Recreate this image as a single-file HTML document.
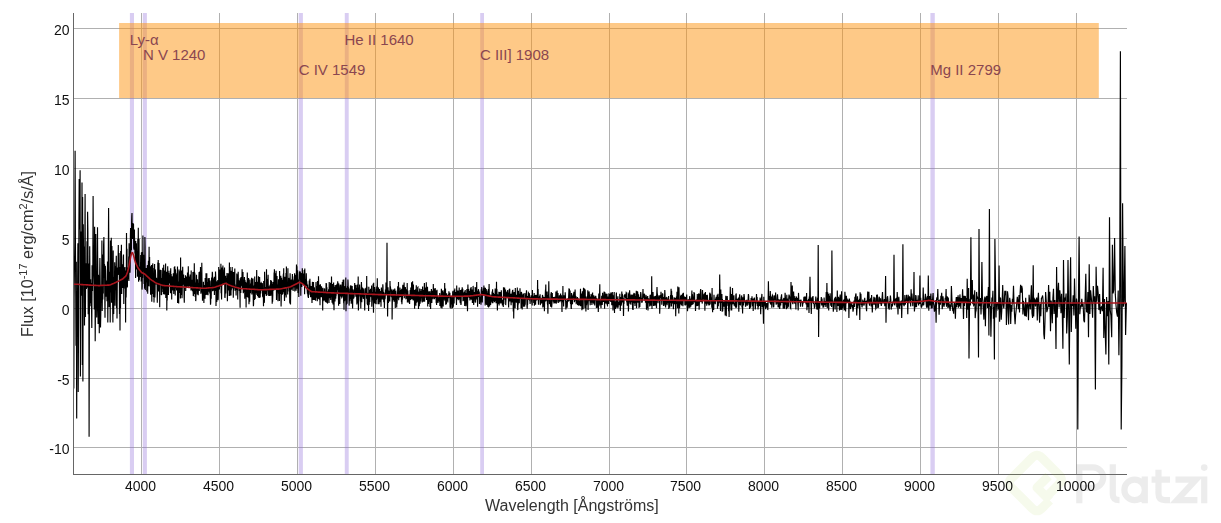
<!DOCTYPE html>
<html><head><meta charset="utf-8"><style>
html,body{margin:0;padding:0;background:#fff;}
body{width:1221px;height:523px;overflow:hidden;}
svg{display:block;font-family:"Liberation Sans",sans-serif;}
.gs{filter:grayscale(1);}
</style></head><body>
<svg width="1221" height="523" viewBox="0 0 1221 523">
<rect width="1221" height="523" fill="#fff"/>
<g stroke="#b0b0b0" stroke-width="1" shape-rendering="crispEdges"><line x1="141.5" y1="13.0" x2="141.5" y2="474.3"/><line x1="219.5" y1="13.0" x2="219.5" y2="474.3"/><line x1="297.5" y1="13.0" x2="297.5" y2="474.3"/><line x1="375.5" y1="13.0" x2="375.5" y2="474.3"/><line x1="453.5" y1="13.0" x2="453.5" y2="474.3"/><line x1="531.5" y1="13.0" x2="531.5" y2="474.3"/><line x1="609.5" y1="13.0" x2="609.5" y2="474.3"/><line x1="686.5" y1="13.0" x2="686.5" y2="474.3"/><line x1="764.5" y1="13.0" x2="764.5" y2="474.3"/><line x1="842.5" y1="13.0" x2="842.5" y2="474.3"/><line x1="920.5" y1="13.0" x2="920.5" y2="474.3"/><line x1="998.5" y1="13.0" x2="998.5" y2="474.3"/><line x1="1076.5" y1="13.0" x2="1076.5" y2="474.3"/><line x1="73.6" y1="28.5" x2="1127.1" y2="28.5"/><line x1="73.6" y1="98.5" x2="1127.1" y2="98.5"/><line x1="73.6" y1="168.5" x2="1127.1" y2="168.5"/><line x1="73.6" y1="238.5" x2="1127.1" y2="238.5"/><line x1="73.6" y1="308.5" x2="1127.1" y2="308.5"/><line x1="73.6" y1="378.5" x2="1127.1" y2="378.5"/><line x1="73.6" y1="447.5" x2="1127.1" y2="447.5"/></g>
<g fill="rgb(147,112,219)" fill-opacity="0.35"><rect x="129.9" y="13.0" width="4.1" height="461.3"/><rect x="142.8" y="13.0" width="4.1" height="461.3"/><rect x="298.7" y="13.0" width="4.2" height="461.3"/><rect x="344.8" y="13.0" width="3.9" height="461.3"/><rect x="480.2" y="13.0" width="3.8" height="461.3"/><rect x="930.4" y="13.0" width="4.4" height="461.3"/></g>
<rect x="119.1" y="23" width="979.7" height="75" fill="rgb(253,147,15)" fill-opacity="0.5"/>
<path d="M73.8 388.5L74.1 298.3L74.4 271.2L74.8 242.3L75.1 150.7L75.4 238.2L75.7 287.0L76.0 345.7L76.3 261.8L76.7 418.6L77.0 306.4L77.3 300.3L77.6 289.0L77.9 243.2L78.2 392.0L78.6 314.7L78.9 226.1L79.2 179.0L79.5 203.0L79.8 229.6L80.1 170.3L80.4 376.5L80.8 231.6L81.1 295.8L81.4 291.0L81.7 276.9L82.0 182.4L82.3 365.0L82.6 196.9L82.9 381.6L83.3 224.2L83.6 265.9L83.9 246.6L84.2 253.4L84.5 325.5L84.8 253.9L85.1 194.0L85.4 317.0L85.7 263.2L86.0 280.7L86.3 288.9L86.7 287.2L87.0 241.2L87.3 287.6L87.6 211.8L87.9 231.5L88.2 314.3L88.5 289.0L88.8 263.6L89.1 436.7L89.4 310.0L89.7 246.3L90.0 287.5L90.3 303.3L90.6 279.2L90.9 306.2L91.2 283.1L91.5 305.3L91.8 328.0L92.1 265.3L92.5 291.1L92.8 271.9L93.1 196.0L93.4 252.1L93.7 269.3L94.0 280.0L94.3 309.5L94.6 226.7L94.9 250.7L95.2 341.3L95.5 302.2L95.8 234.0L96.1 273.5L96.4 283.0L96.7 317.6L97.0 303.1L97.2 277.2L97.5 227.3L97.8 279.2L98.1 324.0L98.4 274.8L98.7 278.0L99.0 294.4L99.3 333.3L99.6 280.6L99.9 257.9L100.2 285.2L100.5 327.6L100.8 314.1L101.0 301.5L101.3 284.9L101.6 301.7L101.9 240.5L102.2 310.9L102.5 285.3L102.8 299.4L103.0 254.4L103.3 293.6L103.6 245.1L103.9 236.9L104.2 278.1L104.5 264.0L104.7 289.1L105.0 317.8L105.3 265.8L105.6 270.7L105.9 290.0L106.1 296.7L106.4 281.1L106.7 280.4L107.0 301.3L107.2 297.1L107.5 261.5L107.8 322.4L108.1 285.9L108.3 261.2L108.6 208.0L108.9 265.7L109.2 306.9L109.4 289.3L109.7 287.0L110.0 271.8L110.2 322.4L110.5 240.6L110.8 259.7L111.1 292.5L111.3 237.7L111.6 302.8L111.9 246.1L112.1 277.3L112.4 265.6L112.6 300.6L112.9 322.4L113.2 250.6L113.4 310.2L113.7 314.1L113.9 281.8L114.2 277.3L114.5 279.6L114.7 262.3L115.0 305.8L115.2 292.0L115.5 281.5L115.7 265.9L116.0 269.3L116.3 255.7L116.5 308.1L116.8 278.8L117.0 318.4L117.3 282.0L117.5 267.4L117.8 274.8L118.0 269.9L118.3 245.0L118.5 273.5L118.8 274.9L119.0 252.9L119.2 264.4L119.5 314.0L119.7 267.0L120.0 330.4L120.2 287.0L120.5 308.3L120.7 251.0L120.9 275.7L121.2 267.2L121.4 244.7L121.7 294.0L121.9 278.9L122.1 280.7L122.4 264.3L122.6 287.9L122.8 268.2L123.1 275.8L123.3 256.8L123.5 254.5L123.8 303.9L124.0 267.9L124.2 283.1L124.5 276.6L124.7 268.6L124.9 267.1L125.1 288.6L125.4 270.5L125.6 322.4L125.8 276.2L126.1 297.6L126.3 287.2L126.5 233.0L126.7 263.3L127.0 248.8L127.2 287.4L127.4 286.4L127.6 267.6L127.8 277.2L128.1 279.4L128.3 278.1L128.5 277.3L128.7 256.5L128.9 280.9L129.1 243.3L129.4 268.0L129.6 261.4L129.8 263.8L130.0 272.7L130.2 266.5L130.4 235.8L130.6 228.1L130.8 253.9L131.0 232.1L131.2 242.0L131.4 250.3L131.6 221.9L131.8 215.8L132.0 213.0L132.2 238.2L132.4 235.4L132.5 239.0L132.7 229.6L132.9 223.0L133.1 238.5L133.3 230.3L133.5 223.7L133.7 248.4L133.8 243.4L134.0 249.7L134.2 235.6L134.4 229.6L134.5 237.9L134.7 240.4L134.9 253.6L135.1 244.1L135.2 257.8L135.4 258.5L135.6 278.1L135.7 241.0L135.9 267.3L136.1 257.1L136.2 258.8L136.4 243.3L136.6 255.2L136.8 269.5L136.9 260.8L137.1 263.3L137.3 259.6L137.4 276.8L137.6 263.8L137.8 239.1L137.9 257.0L138.1 250.7L138.3 227.7L138.5 259.6L138.6 281.7L138.8 266.8L139.0 238.7L139.1 255.5L139.3 280.2L139.5 268.8L139.7 267.6L139.8 266.5L140.0 267.8L140.2 277.1L140.3 274.2L140.5 270.2L140.7 255.1L140.8 274.1L141.0 259.6L141.2 281.4L141.4 252.6L141.5 266.6L141.7 268.2L141.9 251.9L142.0 289.6L142.2 286.4L142.4 262.5L142.6 277.9L142.7 273.0L142.9 235.4L143.1 271.5L143.2 267.6L143.4 269.5L143.6 254.8L143.7 265.1L143.9 266.3L144.1 283.9L144.3 273.1L144.4 268.8L144.6 288.8L144.8 262.0L144.9 237.0L145.1 246.0L145.3 290.1L145.5 282.5L145.6 282.1L145.8 279.1L146.0 272.2L146.1 273.8L146.3 268.1L146.5 269.0L146.7 272.5L146.8 291.4L147.0 279.5L147.2 271.9L147.3 265.6L147.5 265.2L147.7 293.8L147.9 280.2L148.0 275.0L148.2 270.1L148.4 260.8L148.5 274.2L148.7 286.2L148.9 270.7L149.1 246.8L149.2 273.4L149.4 277.8L149.6 257.0L149.7 274.1L149.9 266.7L150.1 286.4L150.3 266.2L150.4 283.0L150.6 294.8L150.8 272.5L150.9 269.2L151.1 279.1L151.3 276.9L151.5 265.0L151.6 282.9L151.8 301.8L152.0 274.5L152.2 275.4L152.3 265.4L152.5 282.0L152.7 263.4L152.8 265.2L153.0 293.9L153.2 268.0L153.4 291.8L153.5 297.1L153.7 282.3L153.9 285.9L154.0 302.5L154.2 277.3L154.4 272.8L154.6 264.0L154.7 280.5L154.9 297.4L155.1 291.5L155.2 269.4L155.4 270.6L155.6 274.8L155.8 284.2L155.9 278.5L156.1 283.5L156.3 284.5L156.5 277.7L156.6 280.7L156.8 283.6L157.0 280.4L157.1 287.1L157.3 302.7L157.5 288.2L157.7 282.2L157.8 262.6L158.0 286.1L158.2 259.9L158.4 266.0L158.5 291.5L158.7 289.9L158.9 280.4L159.0 263.1L159.2 278.0L159.4 274.7L159.6 289.3L159.7 307.3L159.9 284.8L160.1 273.9L160.3 269.7L160.4 282.0L160.6 280.7L160.8 270.1L160.9 284.1L161.1 270.3L161.3 295.1L161.5 294.6L161.6 294.9L161.8 278.0L162.0 288.8L162.2 281.8L162.3 279.1L162.5 279.7L162.7 269.3L162.8 267.8L163.0 292.0L163.2 281.4L163.4 285.8L163.5 294.3L163.7 264.8L163.9 275.1L164.1 285.4L164.2 287.8L164.4 279.5L164.6 294.6L164.8 285.8L164.9 270.6L165.1 273.7L165.3 292.2L165.4 288.6L165.6 263.4L165.8 298.0L166.0 290.1L166.1 298.0L166.3 279.7L166.5 280.6L166.7 271.8L166.8 310.6L167.0 281.9L167.2 300.6L167.4 277.0L167.5 285.6L167.7 266.3L167.9 279.8L168.1 294.2L168.2 270.8L168.4 295.1L168.6 287.5L168.7 273.0L168.9 278.7L169.1 279.2L169.3 283.5L169.4 278.4L169.6 275.4L169.8 280.9L170.0 273.4L170.1 270.7L170.3 283.6L170.5 293.2L170.7 268.3L170.8 284.2L171.0 277.4L171.2 274.1L171.4 293.0L171.5 278.9L171.7 299.6L171.9 276.2L172.1 288.2L172.2 281.9L172.4 276.6L172.6 290.3L172.7 282.7L172.9 290.5L173.1 283.8L173.3 273.3L173.4 283.3L173.6 284.9L173.8 294.1L174.0 275.2L174.1 284.0L174.3 267.0L174.5 291.0L174.7 273.6L174.8 266.3L175.0 283.9L175.2 295.6L175.4 269.2L175.5 273.6L175.7 277.1L175.9 273.3L176.1 288.4L176.2 276.5L176.4 277.4L176.6 290.4L176.8 277.1L176.9 288.9L177.1 275.0L177.3 272.6L177.5 266.5L177.6 303.1L177.8 281.5L178.0 287.1L178.2 284.4L178.3 286.3L178.5 285.2L178.7 303.5L178.9 274.5L179.0 269.5L179.2 274.8L179.4 271.7L179.6 292.1L179.7 292.8L179.9 275.4L180.1 271.3L180.3 281.4L180.4 298.4L180.6 257.5L180.8 290.0L181.0 274.4L181.1 295.0L181.3 274.5L181.5 282.1L181.7 270.4L181.8 275.5L182.0 298.3L182.2 292.8L182.4 281.1L182.5 276.6L182.7 266.8L182.9 281.2L183.1 284.7L183.2 284.2L183.4 284.1L183.6 274.4L183.8 284.4L183.9 284.7L184.1 297.3L184.3 302.8L184.5 283.8L184.6 277.9L184.8 284.5L185.0 279.4L185.2 278.1L185.3 284.6L185.5 275.3L185.7 290.9L185.9 284.2L186.1 287.5L186.2 283.5L186.4 278.4L186.6 276.4L186.8 283.0L186.9 280.1L187.1 287.4L187.3 285.2L187.5 272.6L187.6 285.9L187.8 272.9L188.0 279.6L188.2 282.6L188.3 266.2L188.5 286.2L188.7 286.7L188.9 283.9L189.0 281.5L189.2 282.0L189.4 276.5L189.6 282.9L189.7 280.4L189.9 286.3L190.1 274.5L190.3 287.6L190.5 286.8L190.6 284.2L190.8 281.5L191.0 290.5L191.2 270.4L191.3 289.7L191.5 287.7L191.7 288.1L191.9 289.0L192.0 279.7L192.2 283.2L192.4 291.3L192.6 289.5L192.7 287.5L192.9 272.1L193.1 290.4L193.3 296.1L193.5 294.6L193.6 287.7L193.8 271.8L194.0 294.1L194.2 284.4L194.3 263.3L194.5 289.1L194.7 272.6L194.9 274.3L195.0 280.2L195.2 297.0L195.4 282.5L195.6 288.2L195.7 301.1L195.9 299.8L196.1 284.9L196.3 283.7L196.5 274.8L196.6 279.8L196.8 289.6L197.0 289.3L197.2 286.8L197.3 294.5L197.5 279.2L197.7 285.4L197.9 292.2L198.0 291.0L198.2 295.2L198.4 289.4L198.6 283.3L198.8 289.1L198.9 277.4L199.1 272.0L199.3 291.0L199.5 285.6L199.6 288.7L199.8 271.6L200.0 283.0L200.2 281.0L200.4 278.7L200.5 266.9L200.7 283.3L200.9 293.7L201.1 289.4L201.2 281.0L201.4 286.0L201.6 292.6L201.8 262.7L202.0 285.1L202.1 290.8L202.3 292.0L202.5 300.7L202.7 295.9L202.8 288.9L203.0 288.8L203.2 292.9L203.4 281.7L203.5 285.9L203.7 294.0L203.9 302.9L204.1 284.9L204.3 285.9L204.4 287.9L204.6 297.6L204.8 286.0L205.0 298.7L205.2 278.0L205.3 284.6L205.5 284.5L205.7 292.8L205.9 295.0L206.0 273.3L206.2 278.4L206.4 288.9L206.6 280.5L206.8 273.2L206.9 294.8L207.1 290.2L207.3 290.2L207.5 282.0L207.6 294.7L207.8 284.0L208.0 295.2L208.2 278.2L208.4 278.7L208.5 287.7L208.7 280.0L208.9 291.6L209.1 288.1L209.2 278.1L209.4 286.5L209.6 282.9L209.8 293.6L210.0 280.5L210.1 282.1L210.3 296.0L210.5 304.7L210.7 302.6L210.9 286.3L211.0 287.6L211.2 298.7L211.4 284.7L211.6 277.5L211.7 286.7L211.9 289.5L212.1 278.7L212.3 271.8L212.5 273.5L212.6 291.2L212.8 279.2L213.0 284.4L213.2 287.4L213.4 290.8L213.5 282.7L213.7 289.7L213.9 278.0L214.1 282.4L214.3 276.8L214.4 294.9L214.6 285.1L214.8 279.0L215.0 282.2L215.1 283.3L215.3 291.0L215.5 271.6L215.7 276.2L215.9 281.7L216.0 306.1L216.2 292.8L216.4 283.8L216.6 290.6L216.8 301.9L216.9 282.6L217.1 281.4L217.3 294.6L217.5 288.5L217.7 289.9L217.8 280.0L218.0 300.3L218.2 298.5L218.4 288.8L218.6 289.7L218.7 266.9L218.9 289.2L219.1 282.2L219.3 287.4L219.4 289.4L219.6 280.8L219.8 269.4L220.0 286.6L220.2 277.2L220.3 280.6L220.5 278.2L220.7 280.4L220.9 263.8L221.1 293.3L221.2 285.1L221.4 292.2L221.6 299.4L221.8 283.0L222.0 267.6L222.1 275.2L222.3 272.5L222.5 278.3L222.7 283.1L222.9 265.6L223.0 285.1L223.2 269.6L223.4 284.6L223.6 281.1L223.8 279.4L223.9 281.3L224.1 277.3L224.3 276.7L224.5 267.6L224.7 281.4L224.8 297.0L225.0 298.0L225.2 292.5L225.4 287.2L225.6 275.7L225.7 293.5L225.9 281.0L226.1 281.0L226.3 279.2L226.5 282.5L226.6 278.2L226.8 281.2L227.0 272.9L227.2 278.9L227.4 301.2L227.5 281.7L227.7 280.3L227.9 286.8L228.1 288.4L228.3 273.3L228.5 280.9L228.6 290.4L228.8 285.1L229.0 283.9L229.2 295.9L229.4 262.4L229.5 283.8L229.7 278.9L229.9 295.7L230.1 267.1L230.3 277.9L230.4 279.1L230.6 289.2L230.8 288.8L231.0 295.4L231.2 270.7L231.3 290.2L231.5 281.5L231.7 278.5L231.9 288.6L232.1 276.5L232.2 266.9L232.4 281.1L232.6 271.8L232.8 278.9L233.0 287.5L233.2 287.0L233.3 297.7L233.5 282.9L233.7 271.9L233.9 278.4L234.1 277.1L234.2 274.7L234.4 288.4L234.6 279.5L234.8 268.5L235.0 290.8L235.1 284.1L235.3 288.1L235.5 286.0L235.7 290.5L235.9 285.6L236.1 295.6L236.2 288.9L236.4 288.7L236.6 288.9L236.8 273.5L237.0 284.2L237.1 283.5L237.3 287.4L237.5 274.5L237.7 299.4L237.9 286.7L238.1 275.9L238.2 271.8L238.4 283.7L238.6 285.3L238.8 280.2L239.0 287.0L239.1 280.9L239.3 290.9L239.5 280.4L239.7 286.1L239.9 294.6L240.1 307.8L240.2 278.2L240.4 282.7L240.6 279.6L240.8 293.0L241.0 277.1L241.1 282.6L241.3 286.3L241.5 278.5L241.7 278.7L241.9 282.7L242.1 269.3L242.2 274.7L242.4 283.2L242.6 287.9L242.8 285.1L243.0 272.0L243.1 282.9L243.3 293.3L243.5 291.3L243.7 286.1L243.9 279.4L244.1 292.0L244.2 282.0L244.4 277.1L244.6 280.2L244.8 298.7L245.0 279.9L245.2 296.4L245.3 282.9L245.5 294.6L245.7 281.9L245.9 285.6L246.1 307.4L246.2 293.2L246.4 282.8L246.6 286.2L246.8 289.6L247.0 296.9L247.2 282.9L247.3 272.6L247.5 284.7L247.7 287.1L247.9 287.9L248.1 297.8L248.3 289.6L248.4 293.7L248.6 278.0L248.8 294.2L249.0 304.3L249.2 293.4L249.4 289.2L249.5 288.4L249.7 301.8L249.9 279.5L250.1 286.2L250.3 290.9L250.5 293.3L250.6 283.6L250.8 289.7L251.0 284.9L251.2 288.2L251.4 286.1L251.6 277.8L251.7 287.1L251.9 294.4L252.1 279.3L252.3 285.3L252.5 292.7L252.6 278.5L252.8 288.8L253.0 278.6L253.2 296.6L253.4 306.3L253.6 303.9L253.8 285.6L253.9 293.4L254.1 288.4L254.3 288.2L254.5 300.1L254.7 276.6L254.9 296.1L255.0 287.0L255.2 299.0L255.4 289.0L255.6 282.0L255.8 289.7L256.0 293.5L256.1 287.8L256.3 291.5L256.5 283.3L256.7 270.1L256.9 294.9L257.1 293.3L257.2 288.8L257.4 288.1L257.6 296.1L257.8 283.9L258.0 281.8L258.2 286.1L258.3 297.4L258.5 276.3L258.7 297.4L258.9 282.4L259.1 278.7L259.3 298.0L259.4 286.9L259.6 277.1L259.8 284.8L260.0 295.3L260.2 297.5L260.4 284.3L260.6 291.1L260.7 293.6L260.9 282.5L261.1 290.7L261.3 287.5L261.5 283.4L261.7 283.8L261.8 288.3L262.0 288.0L262.2 283.1L262.4 284.3L262.6 296.8L262.8 289.5L262.9 294.9L263.1 297.5L263.3 292.5L263.5 306.2L263.7 281.0L263.9 294.3L264.1 285.1L264.2 302.8L264.4 301.5L264.6 271.7L264.8 279.8L265.0 293.0L265.2 294.1L265.3 293.6L265.5 287.0L265.7 291.3L265.9 292.9L266.1 287.0L266.3 295.9L266.5 269.2L266.6 292.7L266.8 279.1L267.0 295.3L267.2 285.7L267.4 280.3L267.6 290.6L267.8 280.1L267.9 280.1L268.1 274.8L268.3 287.3L268.5 291.5L268.7 295.8L268.9 286.3L269.0 296.0L269.2 287.6L269.4 286.7L269.6 292.1L269.8 296.0L270.0 284.7L270.2 285.4L270.3 286.1L270.5 288.1L270.7 280.1L270.9 295.7L271.1 284.1L271.3 291.1L271.5 280.7L271.6 290.3L271.8 290.5L272.0 283.9L272.2 303.7L272.4 290.3L272.6 301.7L272.8 295.1L272.9 281.9L273.1 284.2L273.3 290.8L273.5 287.8L273.7 287.7L273.9 284.9L274.1 272.6L274.2 285.4L274.4 269.3L274.6 290.2L274.8 281.3L275.0 281.4L275.2 285.4L275.4 289.4L275.5 275.6L275.7 273.1L275.9 278.6L276.1 270.7L276.3 279.3L276.5 300.0L276.7 278.6L276.8 292.4L277.0 276.1L277.2 289.5L277.4 284.5L277.6 286.6L277.8 291.7L278.0 301.3L278.1 288.6L278.3 288.1L278.5 279.2L278.7 291.8L278.9 285.1L279.1 293.7L279.3 286.7L279.4 301.1L279.6 271.0L279.8 284.6L280.0 294.1L280.2 284.1L280.4 280.5L280.6 284.7L280.8 275.7L280.9 287.8L281.1 306.4L281.3 296.0L281.5 277.8L281.7 279.6L281.9 283.4L282.1 294.7L282.2 279.9L282.4 281.0L282.6 293.6L282.8 293.4L283.0 283.4L283.2 277.4L283.4 273.9L283.6 280.7L283.7 268.3L283.9 292.2L284.1 281.1L284.3 290.0L284.5 301.1L284.7 295.5L284.9 276.8L285.0 293.0L285.2 295.2L285.4 279.9L285.6 278.2L285.8 285.0L286.0 273.0L286.2 297.6L286.4 266.4L286.5 276.8L286.7 283.5L286.9 283.8L287.1 286.9L287.3 287.7L287.5 283.8L287.7 294.6L287.9 268.3L288.0 285.4L288.2 279.6L288.4 286.3L288.6 287.0L288.8 277.9L289.0 280.0L289.2 291.5L289.4 287.9L289.5 279.6L289.7 301.3L289.9 303.4L290.1 273.2L290.3 287.2L290.5 304.6L290.7 290.8L290.9 286.2L291.0 282.6L291.2 279.9L291.4 282.4L291.6 279.6L291.8 289.7L292.0 280.6L292.2 280.1L292.4 274.0L292.5 282.9L292.7 276.2L292.9 281.6L293.1 291.0L293.3 285.6L293.5 286.5L293.7 285.2L293.9 282.7L294.0 281.1L294.2 279.6L294.4 287.6L294.6 273.3L294.8 291.6L295.0 281.5L295.2 275.3L295.4 277.1L295.6 275.5L295.7 281.7L295.9 274.8L296.1 290.7L296.3 275.9L296.5 264.5L296.7 275.9L296.9 266.2L297.1 280.7L297.2 288.7L297.4 285.4L297.6 270.4L297.8 274.5L298.0 293.1L298.2 282.1L298.4 279.5L298.6 287.1L298.8 297.1L298.9 288.4L299.1 279.8L299.3 281.2L299.5 272.0L299.7 274.1L299.9 270.9L300.1 279.0L300.3 271.9L300.5 278.3L300.6 279.5L300.8 295.7L301.0 272.9L301.2 278.2L301.4 278.0L301.6 282.5L301.8 286.9L302.0 276.1L302.2 273.9L302.3 268.3L302.5 273.5L302.7 284.0L302.9 280.7L303.1 273.5L303.3 278.3L303.5 281.5L303.7 285.1L303.9 277.7L304.0 280.4L304.2 269.9L304.4 274.9L304.6 294.3L304.8 268.4L305.0 281.5L305.2 285.6L305.4 281.9L305.6 279.3L305.7 284.7L305.9 285.4L306.1 285.2L306.3 273.3L306.5 285.4L306.7 280.9L306.9 283.3L307.1 288.8L307.3 291.8L307.4 293.7L307.6 284.6L307.8 294.3L308.0 296.1L308.2 296.1L308.4 297.9L308.6 288.0L308.8 288.0L309.0 294.7L309.2 280.5L309.3 291.0L309.5 286.4L309.7 287.6L309.9 278.8L310.1 284.6L310.3 290.4L310.5 296.4L310.7 297.2L310.9 290.4L311.1 289.9L311.2 285.9L311.4 294.0L311.6 289.9L311.8 295.4L312.0 302.9L312.2 291.4L312.4 281.9L312.6 286.0L312.8 282.2L313.0 283.9L313.1 300.1L313.3 293.2L313.5 281.9L313.7 296.0L313.9 299.9L314.1 289.4L314.3 287.4L314.5 289.6L314.7 293.6L314.9 296.0L315.0 299.5L315.2 299.7L315.4 299.5L315.6 300.7L315.8 296.2L316.0 282.0L316.2 291.1L316.4 293.9L316.6 289.5L316.8 297.8L317.0 289.6L317.1 286.0L317.3 301.3L317.5 281.1L317.7 293.4L317.9 298.0L318.1 298.9L318.3 294.2L318.5 276.2L318.7 287.7L318.9 289.1L319.0 285.7L319.2 293.4L319.4 299.8L319.6 289.0L319.8 284.8L320.0 305.2L320.2 289.3L320.4 284.2L320.6 293.7L320.8 294.9L321.0 287.7L321.2 297.3L321.3 289.1L321.5 286.3L321.7 293.4L321.9 297.2L322.1 288.2L322.3 294.4L322.5 291.7L322.7 310.5L322.9 287.8L323.1 301.2L323.3 292.0L323.4 291.6L323.6 297.0L323.8 298.1L324.0 300.5L324.2 294.5L324.4 288.6L324.6 289.0L324.8 295.7L325.0 296.2L325.2 301.5L325.4 295.2L325.6 299.3L325.7 302.3L325.9 293.6L326.1 283.0L326.3 285.0L326.5 283.4L326.7 302.8L326.9 287.2L327.1 300.5L327.3 296.4L327.5 303.6L327.7 299.1L327.9 292.0L328.0 291.4L328.2 293.2L328.4 293.8L328.6 289.3L328.8 292.5L329.0 303.0L329.2 281.9L329.4 294.4L329.6 287.0L329.8 294.0L330.0 298.2L330.2 292.4L330.3 297.7L330.5 282.7L330.7 299.9L330.9 289.0L331.1 296.8L331.3 294.0L331.5 276.4L331.7 288.0L331.9 294.3L332.1 302.8L332.3 294.7L332.5 294.5L332.7 283.9L332.8 302.0L333.0 304.4L333.2 293.1L333.4 291.5L333.6 282.6L333.8 298.6L334.0 310.2L334.2 297.5L334.4 301.0L334.6 296.4L334.8 286.7L335.0 301.5L335.2 285.1L335.3 291.7L335.5 294.8L335.7 298.6L335.9 295.7L336.1 295.5L336.3 288.2L336.5 284.8L336.7 293.4L336.9 288.5L337.1 284.8L337.3 285.0L337.5 290.0L337.7 281.3L337.9 284.5L338.0 282.7L338.2 294.3L338.4 295.7L338.6 305.8L338.8 283.6L339.0 288.8L339.2 298.9L339.4 291.8L339.6 291.1L339.8 304.0L340.0 291.0L340.2 285.9L340.4 284.8L340.6 295.3L340.8 295.1L340.9 284.5L341.1 287.0L341.3 296.6L341.5 296.9L341.7 289.2L341.9 297.2L342.1 296.9L342.3 282.0L342.5 291.3L342.7 295.9L342.9 289.7L343.1 279.8L343.3 291.5L343.5 298.0L343.7 303.3L343.8 279.5L344.0 309.8L344.2 286.2L344.4 299.4L344.6 301.1L344.8 299.5L345.0 294.3L345.2 286.0L345.4 297.3L345.6 288.9L345.8 277.5L346.0 311.2L346.2 297.9L346.4 304.8L346.6 287.7L346.8 302.7L346.9 303.4L347.1 303.2L347.3 293.3L347.5 285.9L347.7 292.3L347.9 279.6L348.1 282.8L348.3 294.0L348.5 287.2L348.7 292.4L348.9 292.8L349.1 305.6L349.3 301.7L349.5 293.2L349.7 301.1L349.9 288.6L350.1 291.4L350.2 299.3L350.4 285.8L350.6 291.8L350.8 285.3L351.0 294.3L351.2 303.8L351.4 288.9L351.6 295.0L351.8 288.0L352.0 286.4L352.2 285.9L352.4 302.7L352.6 308.4L352.8 296.7L353.0 289.2L353.2 298.1L353.4 291.6L353.6 298.7L353.8 295.5L353.9 295.4L354.1 297.5L354.3 290.1L354.5 291.2L354.7 282.9L354.9 290.9L355.1 284.8L355.3 292.8L355.5 287.7L355.7 294.4L355.9 296.6L356.1 284.9L356.3 288.7L356.5 287.9L356.7 298.4L356.9 304.4L357.1 299.1L357.3 291.6L357.5 302.9L357.6 284.4L357.8 303.2L358.0 289.7L358.2 276.5L358.4 310.4L358.6 303.7L358.8 287.4L359.0 294.9L359.2 292.5L359.4 294.5L359.6 284.6L359.8 289.6L360.0 296.8L360.2 295.3L360.4 301.4L360.6 294.4L360.8 308.5L361.0 289.5L361.2 295.6L361.4 282.0L361.6 286.2L361.8 302.2L361.9 288.1L362.1 297.3L362.3 293.6L362.5 287.5L362.7 291.8L362.9 290.8L363.1 291.0L363.3 298.7L363.5 298.1L363.7 290.5L363.9 288.4L364.1 295.8L364.3 293.4L364.5 300.4L364.7 310.5L364.9 299.3L365.1 293.9L365.3 293.0L365.5 288.8L365.7 288.5L365.9 287.9L366.1 291.7L366.3 291.5L366.5 298.7L366.7 276.1L366.8 292.9L367.0 286.6L367.2 304.3L367.4 297.3L367.6 305.2L367.8 299.1L368.0 303.4L368.2 292.7L368.4 298.6L368.6 310.9L368.8 286.7L369.0 301.5L369.2 304.7L369.4 296.8L369.6 299.0L369.8 302.1L370.0 290.1L370.2 296.8L370.4 288.8L370.6 290.0L370.8 290.4L371.0 293.4L371.2 295.2L371.4 297.2L371.6 285.4L371.8 306.8L372.0 301.6L372.2 298.9L372.4 292.1L372.5 293.8L372.7 297.8L372.9 297.0L373.1 283.8L373.3 299.1L373.5 312.8L373.7 282.8L373.9 300.7L374.1 296.7L374.3 293.7L374.5 303.1L374.7 287.0L374.9 295.5L375.1 303.7L375.3 293.2L375.5 291.8L375.7 295.2L375.9 291.7L376.1 304.2L376.3 288.8L376.5 300.0L376.7 286.6L376.9 298.7L377.1 293.9L377.3 278.3L377.5 294.5L377.7 287.8L377.9 291.7L378.1 304.2L378.3 287.5L378.5 287.9L378.7 303.6L378.9 295.3L379.1 304.3L379.3 296.6L379.5 289.0L379.7 294.2L379.8 302.3L380.0 300.5L380.2 294.6L380.4 294.9L380.6 293.9L380.8 291.0L381.0 306.7L381.2 294.7L381.4 287.5L381.6 291.6L381.8 299.2L382.0 298.7L382.2 293.8L382.4 290.5L382.6 294.8L382.8 284.2L383.0 286.5L383.2 299.7L383.4 291.7L383.6 297.0L383.8 302.3L384.0 298.8L384.2 294.8L384.4 308.0L384.6 298.9L384.8 292.5L385.0 299.3L385.2 297.3L385.4 289.4L385.6 295.2L385.8 293.7L386.0 282.4L386.2 293.7L386.4 293.0L386.6 292.0L386.8 284.5L387.0 242.7L387.2 294.5L387.4 295.4L387.6 316.5L387.8 298.7L388.0 287.2L388.2 293.4L388.4 302.9L388.6 290.5L388.8 291.6L389.0 301.5L389.2 292.4L389.4 293.0L389.6 296.2L389.8 301.4L390.0 281.1L390.2 289.7L390.4 288.6L390.6 288.1L390.8 289.5L391.0 289.6L391.2 296.7L391.4 289.4L391.6 295.6L391.8 297.4L392.0 290.4L392.1 319.4L392.3 305.0L392.5 296.9L392.7 291.0L392.9 294.5L393.1 289.3L393.3 296.6L393.5 300.2L393.7 289.9L393.9 293.6L394.1 301.8L394.3 291.9L394.5 296.1L394.7 288.6L394.9 289.9L395.1 291.8L395.3 308.1L395.5 292.5L395.7 291.8L395.9 291.6L396.1 294.0L396.3 298.9L396.5 296.1L396.7 307.4L396.9 296.3L397.1 303.7L397.3 296.7L397.5 298.7L397.7 286.3L397.9 294.3L398.1 294.6L398.3 293.6L398.5 282.1L398.7 300.3L398.9 292.7L399.1 292.4L399.3 293.5L399.5 293.7L399.7 297.5L399.9 287.5L400.1 289.5L400.3 296.8L400.5 296.0L400.7 292.8L400.9 291.7L401.1 290.1L401.3 294.8L401.5 302.2L401.7 288.8L401.9 304.3L402.1 300.2L402.3 292.4L402.5 299.8L402.7 286.4L402.9 284.8L403.1 287.4L403.3 292.7L403.5 293.2L403.7 292.1L403.9 295.8L404.1 282.4L404.3 298.2L404.5 286.7L404.7 291.3L404.9 292.7L405.1 288.3L405.3 287.0L405.5 289.2L405.7 295.2L405.9 298.7L406.1 298.6L406.4 289.3L406.6 290.5L406.8 289.8L407.0 297.9L407.2 283.1L407.4 302.6L407.6 292.4L407.8 290.6L408.0 297.3L408.2 301.4L408.4 297.3L408.6 301.6L408.8 296.1L409.0 302.6L409.2 302.7L409.4 294.7L409.6 303.9L409.8 296.3L410.0 295.8L410.2 289.9L410.4 293.6L410.6 300.0L410.8 287.6L411.0 299.2L411.2 297.4L411.4 297.0L411.6 282.3L411.8 294.8L412.0 299.2L412.2 290.9L412.4 295.9L412.6 281.3L412.8 299.4L413.0 291.5L413.2 300.6L413.4 284.5L413.6 299.5L413.8 294.0L414.0 300.2L414.2 290.0L414.4 291.8L414.6 308.7L414.8 290.5L415.0 291.3L415.2 293.8L415.4 289.4L415.7 302.5L415.9 305.7L416.1 291.3L416.3 285.3L416.5 302.4L416.7 302.0L416.9 300.3L417.1 302.3L417.3 290.4L417.5 294.5L417.7 287.4L417.9 287.2L418.1 301.3L418.3 291.6L418.5 309.0L418.7 296.0L418.9 291.8L419.1 300.3L419.3 306.2L419.5 298.4L419.7 288.4L419.9 297.8L420.1 303.7L420.3 292.7L420.5 291.0L420.7 301.6L420.9 296.4L421.2 289.1L421.4 293.4L421.6 291.2L421.8 297.4L422.0 296.3L422.2 302.4L422.4 299.8L422.6 286.5L422.8 298.0L423.0 300.9L423.2 298.3L423.4 301.7L423.6 292.5L423.8 290.1L424.0 301.1L424.2 289.5L424.4 283.1L424.6 301.7L424.8 291.5L425.0 293.9L425.2 287.5L425.4 288.0L425.7 289.0L425.9 293.6L426.1 297.9L426.3 282.3L426.5 300.1L426.7 288.8L426.9 289.5L427.1 299.7L427.3 295.3L427.5 286.8L427.7 306.5L427.9 290.8L428.1 297.2L428.3 297.0L428.5 304.0L428.7 293.1L428.9 301.7L429.1 291.5L429.4 292.5L429.6 291.4L429.8 293.7L430.0 306.9L430.2 297.7L430.4 296.5L430.6 308.9L430.8 297.9L431.0 291.1L431.2 300.1L431.4 289.0L431.6 302.4L431.8 302.9L432.0 292.6L432.2 292.2L432.4 296.9L432.7 296.0L432.9 290.2L433.1 299.2L433.3 284.1L433.5 293.4L433.7 293.6L433.9 294.3L434.1 297.7L434.3 288.8L434.5 299.3L434.7 294.9L434.9 292.2L435.1 288.1L435.3 289.1L435.5 298.0L435.8 290.4L436.0 296.3L436.2 302.1L436.4 302.0L436.6 305.0L436.8 294.3L437.0 289.7L437.2 301.9L437.4 297.8L437.6 302.5L437.8 296.1L438.0 302.9L438.2 300.9L438.4 300.2L438.7 298.9L438.9 298.3L439.1 297.4L439.3 297.4L439.5 301.8L439.7 293.1L439.9 306.1L440.1 295.5L440.3 301.8L440.5 295.6L440.7 294.7L440.9 307.8L441.2 294.3L441.4 288.8L441.6 292.0L441.8 294.3L442.0 308.5L442.2 297.3L442.4 301.5L442.6 290.4L442.8 298.2L443.0 300.0L443.2 306.5L443.4 292.2L443.7 299.6L443.9 297.9L444.1 290.3L444.3 296.1L444.5 294.7L444.7 282.9L444.9 299.6L445.1 299.3L445.3 293.7L445.5 288.6L445.7 304.7L446.0 297.7L446.2 302.0L446.4 304.3L446.6 293.3L446.8 300.9L447.0 294.9L447.2 295.9L447.4 295.8L447.6 296.3L447.8 302.6L448.0 297.0L448.3 295.4L448.5 294.7L448.7 298.2L448.9 291.2L449.1 293.4L449.3 296.0L449.5 293.1L449.7 295.6L449.9 292.8L450.1 307.7L450.4 303.9L450.6 298.9L450.8 296.0L451.0 308.8L451.2 298.2L451.4 295.9L451.6 298.1L451.8 298.1L452.0 304.4L452.2 296.3L452.5 308.3L452.7 291.4L452.9 300.3L453.1 290.7L453.3 306.7L453.5 294.5L453.7 296.1L453.9 301.6L454.1 303.5L454.4 290.1L454.6 294.4L454.8 288.5L455.0 297.1L455.2 295.8L455.4 294.4L455.6 292.5L455.8 294.2L456.0 292.1L456.3 299.3L456.5 304.9L456.7 285.4L456.9 295.7L457.1 293.9L457.3 299.1L457.5 290.9L457.7 295.5L457.9 290.4L458.2 300.2L458.4 296.8L458.6 295.4L458.8 298.4L459.0 294.9L459.2 287.5L459.4 299.6L459.6 297.9L459.8 295.4L460.1 301.8L460.3 303.1L460.5 290.1L460.7 291.8L460.9 304.9L461.1 304.2L461.3 292.1L461.5 289.6L461.8 292.6L462.0 293.4L462.2 287.3L462.4 296.4L462.6 289.0L462.8 289.4L463.0 301.3L463.2 292.3L463.5 295.8L463.7 299.7L463.9 300.7L464.1 294.2L464.3 296.4L464.5 291.5L464.7 305.9L464.9 299.8L465.2 289.9L465.4 296.1L465.6 300.1L465.8 298.8L466.0 306.3L466.2 303.8L466.4 293.1L466.7 295.6L466.9 288.9L467.1 297.5L467.3 296.9L467.5 311.2L467.7 296.6L467.9 284.4L468.1 292.3L468.4 296.7L468.6 289.0L468.8 291.2L469.0 294.0L469.2 297.9L469.4 295.1L469.6 291.1L469.9 300.4L470.1 293.0L470.3 293.2L470.5 288.3L470.7 291.5L470.9 299.5L471.1 286.9L471.4 295.4L471.6 299.8L471.8 293.7L472.0 297.1L472.2 289.5L472.4 303.0L472.6 301.8L472.9 296.9L473.1 285.9L473.3 289.8L473.5 301.0L473.7 305.0L473.9 297.1L474.1 302.4L474.4 292.1L474.6 294.4L474.8 295.4L475.0 297.7L475.2 286.9L475.4 300.5L475.6 302.6L475.9 288.9L476.1 287.7L476.3 297.1L476.5 291.5L476.7 282.0L476.9 299.6L477.2 295.9L477.4 292.4L477.6 306.7L477.8 295.8L478.0 290.8L478.2 295.5L478.4 289.2L478.7 290.7L478.9 297.0L479.1 291.8L479.3 292.3L479.5 304.0L479.7 299.5L480.0 299.1L480.2 297.6L480.4 297.3L480.6 302.6L480.8 294.5L481.0 304.8L481.3 289.3L481.5 293.1L481.7 286.9L481.9 292.7L482.1 297.5L482.3 302.6L482.6 291.0L482.8 294.8L483.0 292.8L483.2 290.8L483.4 288.3L483.6 295.2L483.9 285.5L484.1 295.6L484.3 295.2L484.5 291.5L484.7 289.6L484.9 287.6L485.2 305.5L485.4 287.9L485.6 303.8L485.8 298.6L486.0 293.4L486.2 289.1L486.5 301.2L486.7 305.0L486.9 290.5L487.1 294.0L487.3 301.4L487.5 297.5L487.8 306.7L488.0 292.7L488.2 298.8L488.4 289.1L488.6 307.4L488.9 292.0L489.1 284.0L489.3 295.4L489.5 295.3L489.7 306.6L489.9 294.3L490.2 296.2L490.4 299.5L490.6 304.9L490.8 296.0L491.0 302.1L491.2 299.3L491.5 294.9L491.7 297.0L491.9 296.7L492.1 291.6L492.3 303.3L492.6 289.2L492.8 303.1L493.0 302.0L493.2 296.3L493.4 292.7L493.7 295.6L493.9 299.4L494.1 300.9L494.3 298.4L494.5 302.3L494.7 293.9L495.0 298.2L495.2 288.4L495.4 301.1L495.6 297.8L495.8 294.7L496.1 303.2L496.3 300.7L496.5 281.8L496.7 297.2L496.9 289.1L497.2 302.8L497.4 310.5L497.6 294.2L497.8 297.5L498.0 295.7L498.3 299.0L498.5 300.6L498.7 304.0L498.9 291.8L499.1 305.6L499.4 292.1L499.6 298.6L499.8 303.4L500.0 301.0L500.2 292.1L500.5 293.4L500.7 294.7L500.9 296.9L501.1 303.4L501.3 290.3L501.6 299.8L501.8 300.5L502.0 300.3L502.2 299.8L502.4 305.4L502.7 299.9L502.9 301.9L503.1 300.4L503.3 307.0L503.5 287.2L503.8 304.2L504.0 296.0L504.2 295.9L504.4 292.2L504.6 287.4L504.9 295.4L505.1 293.8L505.3 300.1L505.5 289.6L505.7 305.1L506.0 298.9L506.2 296.2L506.4 293.7L506.6 293.3L506.9 291.5L507.1 294.6L507.3 297.6L507.5 296.6L507.7 290.0L508.0 296.2L508.2 292.8L508.4 298.5L508.6 307.6L508.8 301.0L509.1 296.0L509.3 289.0L509.5 290.1L509.7 288.7L510.0 301.6L510.2 293.6L510.4 298.0L510.6 294.4L510.8 298.2L511.1 305.2L511.3 294.1L511.5 296.0L511.7 293.5L512.0 302.4L512.2 292.4L512.4 291.8L512.6 290.5L512.8 290.4L513.1 300.4L513.3 311.5L513.5 292.6L513.7 318.5L514.0 299.2L514.2 292.1L514.4 296.5L514.6 296.7L514.9 294.3L515.1 308.2L515.3 287.9L515.5 300.0L515.7 299.7L516.0 294.9L516.2 298.8L516.4 302.7L516.6 298.8L516.9 300.3L517.1 301.7L517.3 287.4L517.5 305.9L517.8 310.1L518.0 303.3L518.2 303.5L518.4 290.7L518.6 297.5L518.9 293.9L519.1 295.1L519.3 303.3L519.5 294.0L519.8 297.5L520.0 288.2L520.2 297.4L520.4 298.7L520.7 294.5L520.9 294.5L521.1 308.2L521.3 291.9L521.6 292.8L521.8 294.1L522.0 304.6L522.2 309.4L522.5 300.1L522.7 294.6L522.9 296.1L523.1 304.0L523.4 293.6L523.6 306.0L523.8 305.8L524.0 298.8L524.3 301.8L524.5 302.4L524.7 306.6L524.9 293.0L525.2 304.7L525.4 296.5L525.6 294.5L525.8 299.1L526.1 297.4L526.3 293.4L526.5 290.2L526.7 293.7L527.0 306.2L527.2 308.8L527.4 302.0L527.6 304.8L527.9 295.9L528.1 298.2L528.3 300.1L528.5 293.0L528.8 293.5L529.0 299.2L529.2 297.0L529.4 293.2L529.7 300.7L529.9 297.4L530.1 304.1L530.3 298.7L530.6 297.2L530.8 299.4L531.0 297.9L531.2 295.3L531.5 296.7L531.7 302.7L531.9 302.2L532.2 305.5L532.4 290.1L532.6 296.8L532.8 296.7L533.1 299.8L533.3 296.6L533.5 296.2L533.7 303.0L534.0 299.8L534.2 292.9L534.4 305.8L534.6 304.1L534.9 295.9L535.1 303.2L535.3 295.1L535.6 304.8L535.8 297.8L536.0 294.8L536.2 297.0L536.5 295.0L536.7 299.9L536.9 299.8L537.1 299.1L537.4 296.1L537.6 279.9L537.8 299.4L538.1 289.1L538.3 300.2L538.5 304.8L538.7 300.4L539.0 296.9L539.2 298.0L539.4 298.3L539.6 296.1L539.9 295.9L540.1 294.2L540.3 305.1L540.6 298.9L540.8 303.9L541.0 297.7L541.2 299.4L541.5 298.1L541.7 301.4L541.9 303.3L542.2 300.2L542.4 295.5L542.6 295.0L542.8 307.6L543.1 297.6L543.3 297.5L543.5 306.6L543.8 304.7L544.0 301.8L544.2 296.9L544.4 311.2L544.7 301.1L544.9 301.9L545.1 298.1L545.4 291.7L545.6 292.1L545.8 284.5L546.0 301.1L546.3 297.8L546.5 293.0L546.7 291.6L547.0 297.3L547.2 291.5L547.4 303.7L547.7 305.0L547.9 313.7L548.1 303.6L548.3 296.0L548.6 294.5L548.8 281.2L549.0 296.0L549.3 298.1L549.5 304.1L549.7 302.2L549.9 302.1L550.2 300.2L550.4 302.5L550.6 306.6L550.9 293.6L551.1 296.7L551.3 291.9L551.6 307.5L551.8 305.8L552.0 303.0L552.3 292.9L552.5 300.0L552.7 297.9L552.9 299.5L553.2 298.1L553.4 301.8L553.6 297.1L553.9 303.5L554.1 300.4L554.3 297.6L554.6 298.5L554.8 296.8L555.0 303.3L555.3 297.7L555.5 300.7L555.7 297.1L555.9 291.4L556.2 303.8L556.4 293.7L556.6 302.7L556.9 301.3L557.1 290.6L557.3 294.3L557.6 296.5L557.8 294.9L558.0 293.0L558.3 303.0L558.5 297.9L558.7 301.2L559.0 296.9L559.2 300.7L559.4 295.3L559.6 299.0L559.9 302.2L560.1 299.4L560.3 296.8L560.6 293.6L560.8 300.1L561.0 301.0L561.3 297.9L561.5 295.2L561.7 302.0L562.0 312.0L562.2 297.6L562.4 300.9L562.7 301.2L562.9 285.9L563.1 299.9L563.4 295.6L563.6 306.4L563.8 297.9L564.1 295.2L564.3 298.1L564.5 300.1L564.8 296.3L565.0 299.0L565.2 292.2L565.5 298.1L565.7 303.2L565.9 309.4L566.2 302.9L566.4 300.6L566.6 305.4L566.9 304.5L567.1 307.8L567.3 304.8L567.6 298.6L567.8 300.6L568.0 300.2L568.3 300.8L568.5 300.3L568.7 295.2L569.0 288.4L569.2 295.8L569.4 288.8L569.7 299.6L569.9 299.3L570.1 290.6L570.4 302.8L570.6 303.8L570.8 299.8L571.1 307.9L571.3 309.0L571.5 293.1L571.8 304.7L572.0 301.6L572.2 301.5L572.5 304.1L572.7 295.6L572.9 296.3L573.2 295.0L573.4 295.4L573.6 298.8L573.9 291.8L574.1 293.9L574.4 302.3L574.6 299.0L574.8 301.3L575.1 289.6L575.3 295.3L575.5 296.5L575.8 299.5L576.0 296.3L576.2 304.2L576.5 299.0L576.7 299.4L576.9 299.4L577.2 303.0L577.4 296.9L577.6 305.1L577.9 301.7L578.1 300.2L578.4 299.6L578.6 302.1L578.8 304.6L579.1 304.2L579.3 301.3L579.5 303.9L579.8 300.0L580.0 305.8L580.2 299.2L580.5 288.7L580.7 306.3L580.9 299.9L581.2 293.4L581.4 298.4L581.7 294.8L581.9 310.2L582.1 302.0L582.4 291.3L582.6 302.2L582.8 297.4L583.1 309.3L583.3 294.0L583.5 287.8L583.8 299.8L584.0 297.6L584.3 297.3L584.5 288.4L584.7 301.6L585.0 308.1L585.2 289.6L585.4 305.5L585.7 296.5L585.9 311.5L586.2 301.7L586.4 298.5L586.6 305.1L586.9 302.2L587.1 296.4L587.3 303.1L587.6 296.8L587.8 290.3L588.1 309.9L588.3 297.7L588.5 296.3L588.8 301.2L589.0 291.4L589.2 292.5L589.5 296.9L589.7 296.8L590.0 299.9L590.2 305.3L590.4 297.1L590.7 302.0L590.9 302.6L591.1 293.9L591.4 300.7L591.6 294.7L591.9 305.0L592.1 301.8L592.3 299.6L592.6 292.6L592.8 300.1L593.1 295.6L593.3 303.2L593.5 298.9L593.8 295.3L594.0 304.3L594.2 303.2L594.5 296.5L594.7 305.5L595.0 298.0L595.2 297.9L595.4 300.2L595.7 295.7L595.9 297.3L596.2 298.7L596.4 307.4L596.6 307.3L596.9 298.2L597.1 307.8L597.4 299.3L597.6 301.5L597.8 304.1L598.1 301.1L598.3 312.0L598.6 300.8L598.8 293.4L599.0 306.3L599.3 297.5L599.5 298.0L599.8 284.2L600.0 304.7L600.2 303.8L600.5 303.7L600.7 304.6L601.0 308.3L601.2 299.4L601.4 304.4L601.7 295.8L601.9 297.8L602.2 305.0L602.4 301.6L602.6 292.8L602.9 301.5L603.1 298.7L603.4 295.4L603.6 301.9L603.8 297.6L604.1 291.6L604.3 293.9L604.6 308.7L604.8 291.9L605.0 300.8L605.3 302.8L605.5 302.9L605.8 293.4L606.0 298.0L606.2 300.4L606.5 303.8L606.7 296.3L607.0 293.7L607.2 304.8L607.5 305.3L607.7 301.6L607.9 296.5L608.2 301.8L608.4 300.2L608.7 304.0L608.9 293.3L609.1 300.3L609.4 298.9L609.6 294.0L609.9 300.8L610.1 299.9L610.4 297.6L610.6 301.7L610.8 292.4L611.1 299.4L611.3 301.9L611.6 301.2L611.8 305.2L612.0 293.6L612.3 292.0L612.5 300.9L612.8 302.1L613.0 310.6L613.3 302.9L613.5 295.2L613.7 303.9L614.0 295.4L614.2 292.1L614.5 313.1L614.7 301.4L615.0 303.4L615.2 302.6L615.4 309.0L615.7 301.2L615.9 306.0L616.2 294.5L616.4 292.6L616.7 307.1L616.9 307.3L617.1 302.4L617.4 300.9L617.6 300.6L617.9 296.2L618.1 307.7L618.4 303.2L618.6 302.4L618.9 301.7L619.1 305.2L619.3 302.4L619.6 303.6L619.8 293.8L620.1 302.4L620.3 311.0L620.6 297.1L620.8 299.1L621.1 304.4L621.3 304.7L621.5 303.0L621.8 291.5L622.0 302.4L622.3 293.8L622.5 295.6L622.8 302.6L623.0 298.3L623.3 304.0L623.5 315.9L623.7 303.8L624.0 303.5L624.2 295.3L624.5 296.5L624.7 294.4L625.0 297.1L625.2 294.3L625.5 296.5L625.7 298.8L625.9 294.7L626.2 292.6L626.4 292.9L626.7 302.2L626.9 300.2L627.2 305.1L627.4 305.2L627.7 298.1L627.9 303.3L628.2 292.5L628.4 311.6L628.6 306.0L628.9 298.8L629.1 293.9L629.4 301.8L629.6 290.3L629.9 295.9L630.1 303.7L630.4 300.3L630.6 297.4L630.9 304.8L631.1 294.6L631.3 301.4L631.6 297.4L631.8 295.6L632.1 302.3L632.3 294.8L632.6 309.6L632.8 296.9L633.1 310.1L633.3 294.3L633.6 303.0L633.8 293.8L634.1 293.1L634.3 300.8L634.6 303.4L634.8 293.4L635.0 306.0L635.3 295.9L635.5 300.6L635.8 301.9L636.0 303.0L636.3 290.8L636.5 308.2L636.8 302.8L637.0 297.8L637.3 294.7L637.5 291.3L637.8 293.0L638.0 302.8L638.3 298.2L638.5 294.2L638.8 297.3L639.0 308.0L639.3 298.3L639.5 297.0L639.8 306.9L640.0 302.4L640.2 300.2L640.5 296.9L640.7 292.1L641.0 294.0L641.2 297.6L641.5 298.9L641.7 301.8L642.0 302.8L642.2 301.2L642.5 301.1L642.7 294.9L643.0 289.0L643.2 297.4L643.5 295.2L643.7 296.7L644.0 298.6L644.2 293.7L644.5 294.4L644.7 299.5L645.0 300.6L645.2 296.7L645.5 302.6L645.7 298.9L646.0 294.9L646.2 300.3L646.5 309.7L646.7 296.6L647.0 306.0L647.2 307.1L647.5 307.7L647.7 295.9L648.0 310.4L648.2 300.7L648.5 298.8L648.7 298.9L649.0 303.2L649.2 300.4L649.5 299.2L649.7 306.6L650.0 296.4L650.2 294.8L650.5 304.1L650.7 303.7L651.0 305.7L651.2 294.6L651.5 305.6L651.7 276.3L652.0 309.1L652.2 293.8L652.5 301.2L652.7 298.7L653.0 292.0L653.2 296.5L653.5 305.9L653.7 297.7L654.0 296.5L654.2 304.6L654.5 305.2L654.7 305.2L655.0 296.1L655.2 299.9L655.5 305.4L655.7 296.8L656.0 296.3L656.2 304.4L656.5 308.1L656.7 294.3L657.0 286.9L657.2 292.8L657.5 295.0L657.7 299.5L658.0 303.3L658.2 299.4L658.5 296.6L658.7 301.0L659.0 295.3L659.2 299.9L659.5 296.9L659.7 313.8L660.0 304.4L660.2 296.0L660.5 295.1L660.8 298.0L661.0 291.8L661.3 296.5L661.5 296.5L661.8 304.7L662.0 298.0L662.3 296.2L662.5 293.4L662.8 294.2L663.0 299.9L663.3 299.1L663.5 306.0L663.8 297.0L664.0 305.6L664.3 301.5L664.5 300.2L664.8 290.0L665.0 293.7L665.3 304.0L665.6 307.4L665.8 301.3L666.1 304.1L666.3 298.2L666.6 298.4L666.8 296.9L667.1 305.2L667.3 302.0L667.6 299.1L667.8 298.6L668.1 303.1L668.3 301.9L668.6 296.1L668.8 309.0L669.1 301.6L669.4 300.3L669.6 307.8L669.9 305.5L670.1 299.8L670.4 303.0L670.6 294.9L670.9 297.0L671.1 288.8L671.4 306.5L671.6 290.7L671.9 303.8L672.1 296.1L672.4 295.3L672.7 299.3L672.9 301.7L673.2 303.4L673.4 309.3L673.7 302.1L673.9 304.8L674.2 297.3L674.4 304.0L674.7 301.1L675.0 298.0L675.2 299.9L675.5 300.0L675.7 316.3L676.0 302.4L676.2 297.8L676.5 296.6L676.7 304.1L677.0 291.8L677.2 297.2L677.5 308.2L677.8 286.6L678.0 296.9L678.3 303.9L678.5 292.0L678.8 313.6L679.0 287.3L679.3 307.7L679.5 308.3L679.8 305.0L680.1 299.3L680.3 302.2L680.6 295.8L680.8 304.5L681.1 294.7L681.3 299.0L681.6 305.5L681.9 294.8L682.1 298.6L682.4 301.2L682.6 293.6L682.9 306.3L683.1 302.1L683.4 292.7L683.6 300.2L683.9 296.5L684.2 297.1L684.4 300.8L684.7 296.8L684.9 305.3L685.2 296.9L685.4 305.4L685.7 300.2L686.0 304.8L686.2 297.7L686.5 297.9L686.7 294.6L687.0 303.4L687.2 305.2L687.5 311.2L687.8 307.0L688.0 301.7L688.3 299.4L688.5 302.4L688.8 300.3L689.1 307.9L689.3 305.3L689.6 296.2L689.8 297.0L690.1 307.4L690.3 302.1L690.6 299.3L690.9 306.5L691.1 298.5L691.4 299.1L691.6 298.2L691.9 290.6L692.1 304.9L692.4 294.4L692.7 297.6L692.9 296.8L693.2 304.2L693.4 300.2L693.7 300.6L694.0 292.0L694.2 300.1L694.5 293.1L694.7 302.1L695.0 302.4L695.3 300.5L695.5 310.9L695.8 303.2L696.0 303.6L696.3 301.3L696.5 299.6L696.8 305.4L697.1 306.1L697.3 294.0L697.6 305.9L697.8 303.2L698.1 305.4L698.4 302.9L698.6 294.3L698.9 294.6L699.1 309.8L699.4 301.9L699.7 293.4L699.9 302.3L700.2 298.8L700.4 291.3L700.7 289.0L701.0 292.5L701.2 302.0L701.5 300.4L701.7 299.3L702.0 302.0L702.3 303.6L702.5 290.0L702.8 299.1L703.1 296.4L703.3 294.4L703.6 297.9L703.8 300.0L704.1 299.3L704.4 293.3L704.6 298.2L704.9 310.8L705.2 295.3L705.4 292.1L705.7 302.0L706.0 303.7L706.2 303.0L706.5 295.0L706.7 305.7L707.0 296.7L707.3 294.9L707.5 297.6L707.8 300.1L708.1 304.3L708.3 303.8L708.6 300.6L708.9 305.4L709.1 301.1L709.4 305.2L709.7 293.6L709.9 292.7L710.2 304.6L710.5 293.7L710.7 299.2L711.0 300.2L711.3 298.2L711.5 298.4L711.8 307.7L712.1 287.9L712.3 305.2L712.6 312.3L712.9 300.8L713.2 300.6L713.4 304.4L713.7 309.9L714.0 294.7L714.2 301.2L714.5 299.8L714.8 303.5L715.0 301.5L715.3 304.1L715.6 298.6L715.9 301.0L716.1 297.4L716.4 297.4L716.7 300.0L716.9 300.0L717.2 294.8L717.5 308.7L717.8 300.1L718.0 293.8L718.3 306.3L718.6 297.0L718.9 303.3L719.1 300.7L719.4 302.0L719.7 274.4L720.0 297.9L720.2 301.0L720.5 311.0L720.8 289.5L721.1 301.1L721.3 303.0L721.6 295.5L721.9 293.9L722.2 311.7L722.4 298.9L722.7 311.3L723.0 303.5L723.3 301.2L723.5 303.2L723.8 304.0L724.1 306.8L724.4 303.0L724.7 301.6L724.9 301.7L725.2 315.5L725.5 304.9L725.8 295.8L726.0 297.6L726.3 316.3L726.6 297.7L726.9 299.0L727.2 296.0L727.4 299.5L727.7 303.0L728.0 305.9L728.3 300.9L728.6 311.3L728.8 300.5L729.1 316.9L729.4 305.9L729.7 303.4L730.0 298.4L730.3 286.7L730.5 300.1L730.8 301.8L731.1 310.5L731.4 294.0L731.7 310.5L731.9 299.6L732.2 304.5L732.5 288.1L732.8 301.6L733.1 299.2L733.4 304.3L733.6 301.4L733.9 295.2L734.2 305.7L734.5 304.4L734.8 303.9L735.1 306.0L735.4 306.5L735.6 300.8L735.9 294.1L736.2 294.0L736.5 307.7L736.8 304.5L737.1 301.5L737.4 298.8L737.7 301.1L737.9 301.1L738.2 299.3L738.5 297.5L738.8 311.8L739.1 302.1L739.4 297.9L739.7 294.4L740.0 297.3L740.2 304.6L740.5 304.8L740.8 299.9L741.1 301.2L741.4 299.5L741.7 295.4L742.0 307.5L742.3 302.9L742.6 313.4L742.9 297.2L743.2 300.3L743.4 305.4L743.7 299.8L744.0 294.1L744.3 296.3L744.6 301.5L744.9 302.7L745.2 300.6L745.5 306.1L745.8 306.0L746.1 302.7L746.4 301.2L746.7 299.8L747.0 303.8L747.3 305.7L747.5 301.4L747.8 303.3L748.1 299.4L748.4 294.0L748.7 296.0L749.0 304.9L749.3 303.3L749.6 309.0L749.9 301.4L750.2 305.4L750.5 307.7L750.8 306.1L751.1 298.0L751.4 300.2L751.7 301.7L752.0 296.2L752.3 303.5L752.6 306.2L752.9 298.7L753.2 311.0L753.5 299.7L753.8 300.1L754.1 299.9L754.4 297.6L754.7 303.2L755.0 301.2L755.3 309.4L755.6 304.2L755.9 303.8L756.2 300.0L756.5 294.1L756.8 300.7L757.1 296.9L757.4 305.9L757.7 301.0L758.0 309.5L758.3 304.8L758.6 305.3L758.9 302.3L759.2 302.2L759.5 304.4L759.8 305.8L760.1 297.6L760.4 303.6L760.7 314.3L761.0 300.7L761.3 299.9L761.6 297.7L761.9 293.9L762.2 307.1L762.6 301.5L762.9 302.7L763.2 310.4L763.5 323.7L763.8 296.8L764.1 306.5L764.4 304.3L764.7 303.2L765.0 303.6L765.3 301.1L765.6 309.2L765.9 304.3L766.2 303.0L766.5 307.5L766.9 305.8L767.2 303.6L767.5 302.9L767.8 310.1L768.1 303.8L768.4 281.2L768.7 297.0L769.0 299.6L769.3 296.1L769.6 301.9L770.0 302.6L770.3 291.1L770.6 301.4L770.9 304.6L771.2 302.2L771.5 296.6L771.8 307.7L772.1 297.9L772.4 295.2L772.8 296.0L773.1 301.3L773.4 306.3L773.7 307.2L774.0 302.4L774.3 295.4L774.6 298.1L775.0 296.9L775.3 300.5L775.6 292.5L775.9 302.0L776.2 304.6L776.5 300.7L776.8 303.7L777.2 296.7L777.5 294.2L777.8 298.2L778.1 307.2L778.4 306.6L778.7 299.2L779.1 307.5L779.4 299.8L779.7 309.0L780.0 303.9L780.3 299.2L780.7 305.5L781.0 297.6L781.3 296.8L781.6 294.2L781.9 302.8L782.3 301.2L782.6 301.1L782.9 299.5L783.2 308.7L783.5 299.4L783.9 297.9L784.2 307.8L784.5 308.6L784.8 303.2L785.1 292.8L785.5 298.5L785.8 304.6L786.1 301.6L786.4 309.3L786.8 294.7L787.1 305.0L787.4 298.4L787.7 308.2L788.1 301.2L788.4 306.7L788.7 298.4L789.0 294.6L789.4 296.1L789.7 298.6L790.0 296.5L790.3 307.6L790.7 308.3L791.0 282.0L791.3 296.5L791.6 301.1L792.0 298.2L792.3 285.5L792.6 303.2L792.9 304.1L793.3 299.7L793.6 291.6L793.9 297.8L794.3 296.1L794.6 303.5L794.9 302.2L795.2 297.7L795.6 299.8L795.9 309.5L796.2 296.9L796.6 297.1L796.9 300.6L797.2 298.2L797.6 299.6L797.9 304.4L798.2 310.4L798.5 292.9L798.9 301.7L799.2 302.0L799.5 301.3L799.9 300.8L800.2 300.1L800.5 306.8L800.9 299.5L801.2 301.2L801.5 301.8L801.9 302.3L802.2 301.0L802.5 306.8L802.9 301.8L803.2 302.7L803.6 301.6L803.9 296.8L804.2 297.7L804.6 296.6L804.9 302.8L805.2 298.3L805.6 296.6L805.9 303.1L806.2 304.5L806.6 293.1L806.9 310.3L807.3 302.0L807.6 301.4L807.9 307.2L808.3 302.2L808.6 298.9L809.0 312.9L809.3 296.5L809.6 301.4L810.0 276.8L810.3 296.6L810.7 301.4L811.0 303.9L811.3 314.0L811.7 297.5L812.0 301.7L812.4 296.8L812.7 302.4L813.0 296.0L813.4 304.0L813.7 302.5L814.1 304.2L814.4 307.7L814.8 307.1L815.1 304.0L815.5 303.6L815.8 296.5L816.1 301.4L816.5 303.1L816.8 309.4L817.2 302.5L817.5 297.9L817.9 309.7L818.2 244.9L818.6 337.0L818.9 304.1L819.3 300.9L819.6 308.4L819.9 304.3L820.3 302.5L820.6 301.0L821.0 302.7L821.3 297.1L821.7 305.5L822.0 298.5L822.4 304.8L822.7 302.8L823.1 307.6L823.4 302.0L823.8 307.3L824.1 297.5L824.5 305.2L824.8 301.0L825.2 303.1L825.5 302.5L825.9 306.9L826.2 292.1L826.6 303.8L826.9 283.0L827.3 308.2L827.7 292.3L828.0 297.2L828.4 293.8L828.7 310.4L829.1 295.8L829.4 302.8L829.8 299.6L830.1 293.2L830.5 300.6L830.8 305.6L831.2 301.3L831.6 307.0L831.9 250.6L832.3 302.3L832.6 300.4L833.0 304.0L833.3 311.8L833.7 304.1L834.1 303.3L834.4 299.2L834.8 298.5L835.1 309.6L835.5 296.8L835.8 297.8L836.2 301.8L836.6 300.2L836.9 312.1L837.3 290.5L837.6 304.2L838.0 305.9L838.4 296.8L838.7 299.1L839.1 304.5L839.5 310.5L839.8 297.8L840.2 294.5L840.5 307.3L840.9 310.0L841.3 300.7L841.6 291.3L842.0 309.7L842.4 301.4L842.7 308.1L843.1 302.2L843.4 300.6L843.8 300.2L844.2 309.8L844.5 309.6L844.9 291.8L845.3 297.8L845.6 311.4L846.0 300.6L846.4 295.7L846.7 302.5L847.1 302.0L847.5 302.0L847.8 300.1L848.2 301.0L848.6 300.2L848.9 318.1L849.3 298.5L849.7 301.1L850.1 301.8L850.4 309.1L850.8 304.4L851.2 302.0L851.5 305.3L851.9 304.6L852.3 308.0L852.6 305.1L853.0 311.6L853.4 309.3L853.8 302.4L854.1 300.5L854.5 307.0L854.9 296.7L855.3 302.2L855.6 295.2L856.0 293.5L856.4 304.4L856.7 315.4L857.1 306.7L857.5 296.2L857.9 307.9L858.2 300.0L858.6 304.6L859.0 304.8L859.4 298.7L859.8 320.0L860.1 292.3L860.5 298.1L860.9 293.7L861.3 304.9L861.6 303.0L862.0 307.3L862.4 304.5L862.8 299.5L863.2 304.4L863.5 300.7L863.9 305.7L864.3 304.2L864.7 297.7L865.1 302.7L865.4 302.9L865.8 301.1L866.2 307.1L866.6 311.2L867.0 300.8L867.3 300.9L867.7 291.4L868.1 302.0L868.5 300.5L868.9 291.8L869.3 304.1L869.6 305.6L870.0 299.0L870.4 300.8L870.8 297.8L871.2 306.4L871.6 295.0L871.9 301.0L872.3 312.4L872.7 302.9L873.1 304.9L873.5 301.9L873.9 296.7L874.3 302.4L874.7 304.6L875.0 297.5L875.4 304.3L875.8 308.8L876.2 307.9L876.6 294.7L877.0 297.7L877.4 294.5L877.8 307.9L878.2 305.6L878.5 306.1L878.9 298.2L879.3 296.7L879.7 302.9L880.1 303.1L880.5 298.3L880.9 303.3L881.3 305.8L881.7 303.7L882.1 297.3L882.5 292.0L882.9 301.2L883.2 303.3L883.6 301.2L884.0 300.4L884.4 299.1L884.8 306.1L885.2 302.2L885.6 275.9L886.0 322.7L886.4 299.4L886.8 303.3L887.2 297.5L887.6 296.2L888.0 300.8L888.4 308.5L888.8 303.4L889.2 309.8L889.6 301.8L890.0 300.9L890.4 295.5L890.8 299.6L891.2 309.6L891.6 304.1L892.0 306.1L892.4 306.0L892.8 302.4L893.2 301.4L893.6 303.0L894.0 254.8L894.4 304.7L894.8 304.9L895.2 303.2L895.6 298.6L896.0 301.1L896.4 297.7L896.8 307.4L897.2 291.9L897.6 301.3L898.0 314.4L898.4 300.7L898.8 296.7L899.2 302.3L899.6 308.8L900.0 301.6L900.4 305.4L900.9 302.9L901.3 300.5L901.7 318.1L902.1 302.7L902.5 299.6L902.9 244.3L903.3 304.2L903.7 304.3L904.1 306.1L904.5 302.9L904.9 295.0L905.3 304.8L905.8 300.6L906.2 300.7L906.6 294.7L907.0 299.2L907.4 298.4L907.8 314.2L908.2 294.8L908.6 302.3L909.0 302.6L909.5 296.4L909.9 298.8L910.3 297.6L910.7 306.5L911.1 289.3L911.5 300.2L911.9 293.6L912.4 299.7L912.8 306.1L913.2 298.7L913.6 302.5L914.0 272.0L914.4 311.4L914.9 306.3L915.3 307.3L915.7 295.1L916.1 296.2L916.5 307.1L916.9 300.7L917.4 300.3L917.8 303.3L918.2 295.3L918.6 305.4L919.0 301.6L919.5 303.9L919.9 275.4L920.3 304.0L920.7 297.9L921.1 306.1L921.6 307.0L922.0 305.8L922.4 303.8L922.8 304.3L923.2 287.6L923.7 305.2L924.1 299.6L924.5 301.4L924.9 299.5L925.4 293.9L925.8 298.1L926.2 304.0L926.6 307.8L927.1 297.5L927.5 296.1L927.9 307.8L928.3 275.4L928.8 310.8L929.2 300.7L929.6 296.1L930.1 305.5L930.5 299.6L930.9 293.5L931.3 308.5L931.8 299.4L932.2 308.3L932.6 299.0L933.1 293.1L933.5 303.6L933.9 305.7L934.4 311.7L934.8 309.9L935.2 304.8L935.6 300.2L936.1 322.8L936.5 300.0L936.9 297.4L937.4 300.2L937.8 289.0L938.2 302.6L938.7 301.7L939.1 314.7L939.5 305.7L940.0 299.6L940.4 304.8L940.9 295.9L941.3 299.0L941.7 292.7L942.2 309.2L942.6 305.0L943.0 296.2L943.5 301.8L943.9 306.8L944.4 304.5L944.8 304.0L945.2 297.8L945.7 298.9L946.1 288.9L946.5 306.7L947.0 298.0L947.4 296.5L947.9 307.9L948.3 297.5L948.8 307.5L949.2 303.4L949.6 306.6L950.1 310.9L950.5 305.6L951.0 306.1L951.4 286.0L951.9 298.7L952.3 305.4L952.7 309.9L953.2 309.2L953.6 313.8L954.1 303.8L954.5 303.3L955.0 307.3L955.4 318.7L955.9 302.0L956.3 297.0L956.8 307.2L957.2 296.9L957.6 304.9L958.1 295.2L958.5 307.8L959.0 297.2L959.4 306.5L959.9 294.4L960.3 300.1L960.8 308.5L961.2 298.1L961.7 302.7L962.2 299.7L962.6 289.2L963.1 304.2L963.5 319.1L964.0 295.7L964.4 306.0L964.9 297.4L965.3 296.0L965.8 302.5L966.3 297.9L966.7 318.0L967.2 278.7L967.7 307.7L968.1 309.6L968.6 288.1L969.0 358.4L969.5 306.7L970.0 298.8L970.4 305.5L970.9 237.2L971.4 299.5L971.9 293.8L972.3 279.9L972.8 304.3L973.3 294.6L973.7 305.3L974.2 304.6L974.7 290.2L975.2 318.1L975.6 312.4L976.1 310.3L976.6 291.9L977.1 298.9L977.6 297.7L978.0 298.9L978.5 357.6L979.0 228.9L979.5 304.7L980.0 306.0L980.5 298.0L981.0 314.5L981.4 304.4L981.9 262.1L982.4 296.8L982.9 302.2L983.4 311.6L983.9 319.6L984.4 300.4L984.9 296.6L985.4 326.3L985.9 298.6L986.4 297.2L986.9 295.9L987.4 308.0L987.9 297.8L988.4 287.1L988.9 335.5L989.4 209.0L989.9 306.2L990.4 306.4L990.9 336.8L991.4 312.7L991.9 297.4L992.4 301.3L992.9 290.7L993.4 318.8L993.9 307.1L994.4 359.6L994.9 239.0L995.5 283.4L996.0 317.6L996.5 303.8L997.0 304.2L997.5 303.5L998.0 309.2L998.6 308.1L999.1 265.5L999.6 321.8L1000.1 297.9L1000.6 298.5L1001.2 319.8L1001.7 311.9L1002.2 299.7L1002.7 284.9L1003.3 304.6L1003.8 308.3L1004.3 302.2L1004.8 290.8L1005.4 295.2L1005.9 290.7L1006.4 324.9L1007.0 311.1L1007.5 291.2L1008.0 295.8L1008.6 324.4L1009.1 308.5L1009.7 297.9L1010.2 301.5L1010.7 324.1L1011.3 305.0L1011.8 311.8L1012.4 298.7L1012.9 303.4L1013.5 285.8L1014.0 302.7L1014.5 315.0L1015.1 324.1L1015.6 315.1L1016.2 309.9L1016.7 303.5L1017.3 296.9L1017.8 301.4L1018.4 309.2L1019.0 295.0L1019.5 312.5L1020.1 293.0L1020.6 284.8L1021.2 292.6L1021.7 285.9L1022.3 288.9L1022.9 314.6L1023.4 300.9L1024.0 305.3L1024.6 315.0L1025.1 316.0L1025.7 297.8L1026.3 316.8L1026.8 307.0L1027.4 303.0L1028.0 307.6L1028.5 320.2L1029.1 294.8L1029.7 301.9L1030.3 309.4L1030.8 299.1L1031.4 285.2L1032.0 313.2L1032.6 317.9L1033.2 265.2L1033.7 316.4L1034.3 298.7L1034.9 299.8L1035.5 306.4L1036.1 299.8L1036.7 297.6L1037.3 320.6L1037.8 300.9L1038.4 292.7L1039.0 308.2L1039.6 322.7L1040.2 303.9L1040.8 316.2L1041.4 298.3L1042.0 297.7L1042.6 295.5L1043.2 301.4L1043.8 333.9L1044.4 339.2L1045.0 320.8L1045.6 292.0L1046.2 300.5L1046.8 312.1L1047.4 309.9L1048.0 306.1L1048.6 284.9L1049.2 307.0L1049.8 291.8L1050.5 331.3L1051.1 300.6L1051.7 305.1L1052.3 323.3L1052.9 297.7L1053.5 288.7L1054.1 313.9L1054.8 300.1L1055.4 309.3L1056.0 349.0L1056.6 267.0L1057.2 317.4L1057.9 292.1L1058.5 282.8L1059.1 307.6L1059.8 290.2L1060.4 298.0L1061.0 313.3L1061.6 293.7L1062.3 312.9L1062.9 348.7L1063.5 260.0L1064.2 318.1L1064.8 297.6L1065.5 300.6L1066.1 293.5L1066.7 333.5L1067.4 316.2L1068.0 260.0L1068.7 313.5L1069.3 364.6L1070.0 293.1L1070.6 257.2L1071.3 331.9L1071.9 303.7L1072.6 305.8L1073.2 295.2L1073.9 315.4L1074.5 278.5L1075.2 303.3L1075.8 328.8L1076.5 298.5L1077.1 303.2L1077.8 429.4L1078.5 293.5L1079.1 236.4L1079.8 314.3L1080.5 305.3L1081.1 307.4L1081.8 298.9L1082.5 306.7L1083.1 303.7L1083.8 320.3L1084.5 322.2L1085.1 300.1L1085.8 273.8L1086.5 311.6L1087.2 312.0L1087.9 292.0L1088.5 337.3L1089.2 264.2L1089.9 314.1L1090.6 290.2L1091.3 297.5L1092.0 305.7L1092.6 317.8L1093.3 286.0L1094.0 301.8L1094.7 296.3L1095.4 389.5L1096.1 266.7L1096.8 301.8L1097.5 285.9L1098.2 293.3L1098.9 310.1L1099.6 294.1L1100.3 314.0L1101.0 307.5L1101.7 306.6L1102.4 311.1L1103.1 267.8L1103.8 338.1L1104.5 299.0L1105.2 332.1L1105.9 354.5L1106.6 297.1L1107.4 316.3L1108.1 301.0L1108.8 364.6L1109.5 217.2L1110.2 309.7L1110.9 315.8L1111.7 337.3L1112.4 244.8L1113.1 293.4L1113.8 289.9L1114.6 237.9L1115.3 294.4L1116.0 305.2L1116.7 312.6L1117.5 316.6L1118.2 290.4L1118.9 355.2L1119.7 296.9L1120.4 51.3L1121.2 429.4L1121.9 365.4L1122.6 203.2L1123.4 306.7L1124.1 300.4L1124.9 246.0L1125.6 335.0L1126.4 303.1" fill="none" stroke="#000" stroke-width="1.15" stroke-linejoin="miter"/>
<path d="M73.6 284.1L74.6 284.2L75.6 284.2L76.6 284.3L77.6 284.3L78.6 284.4L79.6 284.5L80.6 284.5L81.6 284.6L82.6 284.6L83.6 284.7L84.6 284.8L85.6 284.8L86.6 284.9L87.6 284.9L88.6 285.0L89.6 285.1L90.6 285.1L91.6 285.2L92.6 285.2L93.6 285.3L94.6 285.4L95.6 285.4L96.6 285.5L97.6 285.5L98.6 285.6L99.6 285.6L100.6 285.5L101.6 285.4L102.6 285.4L103.6 285.3L104.6 285.3L105.6 285.2L106.6 285.2L107.6 285.1L108.6 285.1L109.6 285.0L110.6 284.7L111.6 284.3L112.6 283.8L113.6 283.4L114.6 282.9L115.6 282.5L116.6 282.0L117.6 281.6L118.6 281.1L119.6 280.6L120.6 280.0L121.6 279.5L122.6 279.0L123.6 278.1L124.6 277.2L125.6 276.4L126.6 274.5L127.6 272.0L128.6 267.8L129.6 262.5L130.6 257.1L131.6 253.1L132.6 252.8L133.6 255.4L134.6 259.5L135.6 262.9L136.6 265.0L137.6 267.1L138.6 268.8L139.6 270.0L140.6 271.2L141.6 272.5L142.6 273.0L143.6 273.5L144.6 274.0L145.6 274.8L146.6 275.8L147.6 276.7L148.6 277.7L149.6 278.6L150.6 279.4L151.6 280.1L152.6 280.7L153.6 281.4L154.6 282.1L155.6 282.7L156.6 283.2L157.6 283.6L158.6 283.9L159.6 284.3L160.6 284.7L161.6 285.0L162.6 285.4L163.6 285.5L164.6 285.6L165.6 285.7L166.6 285.8L167.6 285.8L168.6 285.9L169.6 286.0L170.6 286.1L171.6 286.2L172.6 286.3L173.6 286.4L174.6 286.5L175.6 286.5L176.6 286.6L177.6 286.7L178.6 286.7L179.6 286.8L180.6 286.9L181.6 286.9L182.6 287.0L183.6 287.0L184.6 287.1L185.6 287.2L186.6 287.2L187.6 287.3L188.6 287.4L189.6 287.4L190.6 287.5L191.6 287.5L192.6 287.6L193.6 287.7L194.6 287.7L195.6 287.8L196.6 287.9L197.6 287.9L198.6 288.0L199.6 288.0L200.6 288.1L201.6 288.2L202.6 288.2L203.6 288.3L204.6 288.2L205.6 288.2L206.6 288.1L207.6 288.0L208.6 287.9L209.6 287.8L210.6 287.8L211.6 287.7L212.6 287.6L213.6 287.5L214.6 287.3L215.6 287.0L216.6 286.6L217.6 286.3L218.6 286.0L219.6 285.6L220.6 285.3L221.6 284.9L222.6 284.5L223.6 284.1L224.6 283.7L225.6 283.3L226.6 283.8L227.6 284.3L228.6 284.7L229.6 285.2L230.6 285.6L231.6 286.0L232.6 286.3L233.6 286.6L234.6 286.9L235.6 287.2L236.6 287.5L237.6 287.8L238.6 288.1L239.6 288.4L240.6 288.5L241.6 288.6L242.6 288.7L243.6 288.7L244.6 288.8L245.6 288.8L246.6 288.9L247.6 289.0L248.6 289.0L249.6 289.1L250.6 289.2L251.6 289.2L252.6 289.3L253.6 289.3L254.6 289.4L255.6 289.5L256.6 289.5L257.6 289.6L258.6 289.7L259.6 289.7L260.6 289.8L261.6 289.8L262.6 289.7L263.6 289.7L264.6 289.6L265.6 289.6L266.6 289.6L267.6 289.5L268.6 289.5L269.6 289.4L270.6 289.4L271.6 289.4L272.6 289.3L273.6 289.3L274.6 289.2L275.6 289.2L276.6 289.1L277.6 289.1L278.6 289.1L279.6 289.0L280.6 288.9L281.6 288.7L282.6 288.5L283.6 288.3L284.6 288.1L285.6 287.9L286.6 287.7L287.6 287.5L288.6 287.3L289.6 287.1L290.6 286.7L291.6 286.2L292.6 285.7L293.6 285.2L294.6 284.7L295.6 284.2L296.6 283.7L297.6 283.2L298.6 282.6L299.6 282.3L300.6 282.8L301.6 283.3L302.6 283.8L303.6 284.7L304.6 285.8L305.6 286.9L306.6 288.1L307.6 288.9L308.6 289.6L309.6 290.3L310.6 291.0L311.6 291.6L312.6 291.7L313.6 291.7L314.6 291.8L315.6 291.9L316.6 291.9L317.6 292.0L318.6 292.1L319.6 292.1L320.6 292.2L321.6 292.3L322.6 292.3L323.6 292.4L324.6 292.4L325.6 292.5L326.6 292.6L327.6 292.6L328.6 292.7L329.6 292.8L330.6 292.8L331.6 292.9L332.6 292.9L333.6 292.9L334.6 293.0L335.6 293.0L336.6 293.0L337.6 293.1L338.6 293.1L339.6 293.2L340.6 293.2L341.6 293.2L342.6 293.3L343.6 293.3L344.6 293.3L345.6 293.4L346.6 293.4L347.6 293.4L348.6 293.5L349.6 293.5L350.6 293.6L351.6 293.6L352.6 293.6L353.6 293.7L354.6 293.7L355.6 293.7L356.6 293.8L357.6 293.8L358.6 293.8L359.6 293.9L360.6 293.9L361.6 294.0L362.6 294.0L363.6 294.0L364.6 294.1L365.6 294.1L366.6 294.1L367.6 294.2L368.6 294.2L369.6 294.2L370.6 294.3L371.6 294.3L372.6 294.4L373.6 294.4L374.6 294.4L375.6 294.5L376.6 294.5L377.6 294.5L378.6 294.6L379.6 294.6L380.6 294.6L381.6 294.6L382.6 294.7L383.6 294.7L384.6 294.7L385.6 294.7L386.6 294.8L387.6 294.8L388.6 294.8L389.6 294.8L390.6 294.9L391.6 294.9L392.6 294.9L393.6 294.9L394.6 294.9L395.6 295.0L396.6 295.0L397.6 295.0L398.6 295.0L399.6 295.1L400.6 295.1L401.6 295.1L402.6 295.1L403.6 295.2L404.6 295.2L405.6 295.2L406.6 295.2L407.6 295.3L408.6 295.3L409.6 295.3L410.6 295.3L411.6 295.4L412.6 295.4L413.6 295.4L414.6 295.4L415.6 295.5L416.6 295.5L417.6 295.5L418.6 295.5L419.6 295.6L420.6 295.6L421.6 295.6L422.6 295.6L423.6 295.7L424.6 295.7L425.6 295.7L426.6 295.7L427.6 295.8L428.6 295.8L429.6 295.8L430.6 295.8L431.6 295.9L432.6 295.9L433.6 295.9L434.6 295.9L435.6 296.0L436.6 296.0L437.6 296.0L438.6 296.0L439.6 296.1L440.6 296.1L441.6 296.1L442.6 296.1L443.6 296.2L444.6 296.2L445.6 296.2L446.6 296.2L447.6 296.3L448.6 296.3L449.6 296.3L450.6 296.3L451.6 296.4L452.6 296.4L453.6 296.4L454.6 296.4L455.6 296.3L456.6 296.3L457.6 296.3L458.6 296.3L459.6 296.2L460.6 296.2L461.6 296.2L462.6 296.2L463.6 296.2L464.6 296.1L465.6 296.1L466.6 296.1L467.6 296.1L468.6 296.0L469.6 296.0L470.6 295.9L471.6 295.8L472.6 295.7L473.6 295.5L474.6 295.4L475.6 295.3L476.6 295.1L477.6 295.0L478.6 294.9L479.6 294.8L480.6 294.6L481.6 294.5L482.6 294.7L483.6 294.9L484.6 295.1L485.6 295.3L486.6 295.5L487.6 295.7L488.6 295.9L489.6 296.1L490.6 296.3L491.6 296.5L492.6 296.7L493.6 296.8L494.6 296.9L495.6 296.9L496.6 297.0L497.6 297.0L498.6 297.1L499.6 297.1L500.6 297.2L501.6 297.3L502.6 297.3L503.6 297.4L504.6 297.4L505.6 297.5L506.6 297.5L507.6 297.6L508.6 297.6L509.6 297.7L510.6 297.7L511.6 297.8L512.6 297.8L513.6 297.9L514.6 297.9L515.6 298.0L516.6 298.0L517.6 298.1L518.6 298.1L519.6 298.2L520.6 298.2L521.6 298.3L522.6 298.4L523.6 298.4L524.6 298.5L525.6 298.5L526.6 298.6L527.6 298.6L528.6 298.7L529.6 298.7L530.6 298.8L531.6 298.8L532.6 298.9L533.6 298.9L534.6 298.9L535.6 298.9L536.6 298.9L537.6 298.9L538.6 299.0L539.6 299.0L540.6 299.0L541.6 299.0L542.6 299.0L543.6 299.0L544.6 299.0L545.6 299.0L546.6 299.0L547.6 299.1L548.6 299.1L549.6 299.1L550.6 299.1L551.6 299.1L552.6 299.1L553.6 299.1L554.6 299.1L555.6 299.1L556.6 299.1L557.6 299.2L558.6 299.2L559.6 299.2L560.6 299.2L561.6 299.2L562.6 299.2L563.6 299.2L564.6 299.2L565.6 299.2L566.6 299.2L567.6 299.3L568.6 299.3L569.6 299.3L570.6 299.3L571.6 299.3L572.6 299.3L573.6 299.3L574.6 299.3L575.6 299.3L576.6 299.3L577.6 299.4L578.6 299.4L579.6 299.4L580.6 299.4L581.6 299.4L582.6 299.4L583.6 299.4L584.6 299.4L585.6 299.4L586.6 299.5L587.6 299.5L588.6 299.5L589.6 299.5L590.6 299.5L591.6 299.5L592.6 299.5L593.6 299.5L594.6 299.5L595.6 299.5L596.6 299.6L597.6 299.6L598.6 299.6L599.6 299.6L600.6 299.6L601.6 299.6L602.6 299.6L603.6 299.6L604.6 299.6L605.6 299.6L606.6 299.7L607.6 299.7L608.6 299.7L609.6 299.7L610.6 299.7L611.6 299.7L612.6 299.7L613.6 299.7L614.6 299.7L615.6 299.7L616.6 299.8L617.6 299.8L618.6 299.8L619.6 299.8L620.6 299.8L621.6 299.8L622.6 299.8L623.6 299.8L624.6 299.8L625.6 299.9L626.6 299.9L627.6 299.9L628.6 299.9L629.6 299.9L630.6 299.9L631.6 299.9L632.6 299.9L633.6 299.9L634.6 299.9L635.6 300.0L636.6 300.0L637.6 300.0L638.6 300.0L639.6 300.0L640.6 300.0L641.6 300.0L642.6 300.0L643.6 300.0L644.6 300.0L645.6 300.1L646.6 300.1L647.6 300.1L648.6 300.1L649.6 300.1L650.6 300.1L651.6 300.1L652.6 300.1L653.6 300.1L654.6 300.1L655.6 300.2L656.6 300.2L657.6 300.2L658.6 300.2L659.6 300.2L660.6 300.2L661.6 300.2L662.6 300.2L663.6 300.2L664.6 300.2L665.6 300.2L666.6 300.3L667.6 300.3L668.6 300.3L669.6 300.3L670.6 300.3L671.6 300.3L672.6 300.3L673.6 300.3L674.6 300.3L675.6 300.3L676.6 300.4L677.6 300.4L678.6 300.4L679.6 300.4L680.6 300.4L681.6 300.4L682.6 300.4L683.6 300.4L684.6 300.4L685.6 300.4L686.6 300.5L687.6 300.5L688.6 300.5L689.6 300.5L690.6 300.5L691.6 300.5L692.6 300.5L693.6 300.5L694.6 300.5L695.6 300.5L696.6 300.6L697.6 300.6L698.6 300.6L699.6 300.6L700.6 300.6L701.6 300.6L702.6 300.6L703.6 300.6L704.6 300.6L705.6 300.6L706.6 300.6L707.6 300.7L708.6 300.7L709.6 300.7L710.6 300.7L711.6 300.7L712.6 300.7L713.6 300.7L714.6 300.7L715.6 300.7L716.6 300.7L717.6 300.8L718.6 300.8L719.6 300.8L720.6 300.8L721.6 300.8L722.6 300.8L723.6 300.8L724.6 300.8L725.6 300.8L726.6 300.8L727.6 300.9L728.6 300.9L729.6 300.9L730.6 300.9L731.6 300.9L732.6 300.9L733.6 300.9L734.6 300.9L735.6 300.9L736.6 300.9L737.6 301.0L738.6 301.0L739.6 301.0L740.6 301.0L741.6 301.0L742.6 301.0L743.6 301.0L744.6 301.0L745.6 301.0L746.6 301.0L747.6 301.0L748.6 301.1L749.6 301.1L750.6 301.1L751.6 301.1L752.6 301.1L753.6 301.1L754.6 301.1L755.6 301.1L756.6 301.1L757.6 301.1L758.6 301.2L759.6 301.2L760.6 301.2L761.6 301.2L762.6 301.2L763.6 301.2L764.6 301.2L765.6 301.2L766.6 301.3L767.6 301.3L768.6 301.3L769.6 301.3L770.6 301.3L771.6 301.3L772.6 301.3L773.6 301.4L774.6 301.4L775.6 301.4L776.6 301.4L777.6 301.4L778.6 301.4L779.6 301.5L780.6 301.5L781.6 301.5L782.6 301.5L783.6 301.5L784.6 301.5L785.6 301.5L786.6 301.6L787.6 301.6L788.6 301.6L789.6 301.6L790.6 301.6L791.6 301.6L792.6 301.7L793.6 301.7L794.6 301.7L795.6 301.7L796.6 301.7L797.6 301.7L798.6 301.8L799.6 301.8L800.6 301.8L801.6 301.8L802.6 301.8L803.6 301.8L804.6 301.8L805.6 301.9L806.6 301.9L807.6 301.9L808.6 301.9L809.6 301.9L810.6 301.9L811.6 302.0L812.6 302.0L813.6 302.0L814.6 302.0L815.6 302.0L816.6 302.0L817.6 302.0L818.6 302.1L819.6 302.1L820.6 302.1L821.6 302.1L822.6 302.1L823.6 302.1L824.6 302.2L825.6 302.2L826.6 302.2L827.6 302.2L828.6 302.2L829.6 302.2L830.6 302.2L831.6 302.3L832.6 302.3L833.6 302.3L834.6 302.3L835.6 302.3L836.6 302.3L837.6 302.4L838.6 302.4L839.6 302.4L840.6 302.4L841.6 302.4L842.6 302.4L843.6 302.4L844.6 302.5L845.6 302.5L846.6 302.5L847.6 302.5L848.6 302.5L849.6 302.5L850.6 302.6L851.6 302.6L852.6 302.6L853.6 302.6L854.6 302.6L855.6 302.6L856.6 302.6L857.6 302.7L858.6 302.7L859.6 302.7L860.6 302.7L861.6 302.7L862.6 302.7L863.6 302.7L864.6 302.7L865.6 302.7L866.6 302.7L867.6 302.6L868.6 302.6L869.6 302.6L870.6 302.6L871.6 302.6L872.6 302.6L873.6 302.6L874.6 302.6L875.6 302.6L876.6 302.6L877.6 302.6L878.6 302.6L879.6 302.6L880.6 302.5L881.6 302.5L882.6 302.5L883.6 302.5L884.6 302.5L885.6 302.5L886.6 302.5L887.6 302.5L888.6 302.5L889.6 302.5L890.6 302.5L891.6 302.5L892.6 302.5L893.6 302.4L894.6 302.4L895.6 302.4L896.6 302.4L897.6 302.4L898.6 302.4L899.6 302.4L900.6 302.4L901.6 302.3L902.6 302.3L903.6 302.2L904.6 302.2L905.6 302.1L906.6 302.1L907.6 302.1L908.6 302.0L909.6 302.0L910.6 301.9L911.6 301.9L912.6 301.8L913.6 301.8L914.6 301.7L915.6 301.7L916.6 301.7L917.6 301.6L918.6 301.6L919.6 301.5L920.6 301.4L921.6 301.3L922.6 301.2L923.6 301.1L924.6 300.9L925.6 300.8L926.6 300.7L927.6 300.6L928.6 300.4L929.6 300.5L930.6 300.6L931.6 300.8L932.6 300.9L933.6 301.1L934.6 301.2L935.6 301.4L936.6 301.5L937.6 301.7L938.6 301.8L939.6 301.9L940.6 302.0L941.6 302.0L942.6 302.0L943.6 302.1L944.6 302.1L945.6 302.1L946.6 302.1L947.6 302.1L948.6 302.1L949.6 302.2L950.6 302.2L951.6 302.2L952.6 302.2L953.6 302.2L954.6 302.2L955.6 302.3L956.6 302.3L957.6 302.3L958.6 302.3L959.6 302.3L960.6 302.3L961.6 302.4L962.6 302.4L963.6 302.4L964.6 302.4L965.6 302.4L966.6 302.4L967.6 302.5L968.6 302.5L969.6 302.5L970.6 302.5L971.6 302.5L972.6 302.5L973.6 302.6L974.6 302.6L975.6 302.6L976.6 302.6L977.6 302.6L978.6 302.6L979.6 302.7L980.6 302.7L981.6 302.7L982.6 302.7L983.6 302.7L984.6 302.7L985.6 302.8L986.6 302.8L987.6 302.8L988.6 302.8L989.6 302.8L990.6 302.8L991.6 302.9L992.6 302.9L993.6 302.9L994.6 302.9L995.6 302.9L996.6 302.9L997.6 303.0L998.6 303.0L999.6 303.0L1000.6 303.0L1001.6 303.0L1002.6 303.0L1003.6 303.0L1004.6 303.0L1005.6 303.0L1006.6 303.0L1007.6 303.0L1008.6 303.0L1009.6 303.0L1010.6 303.0L1011.6 303.0L1012.6 303.0L1013.6 303.0L1014.6 303.0L1015.6 303.0L1016.6 303.0L1017.6 303.0L1018.6 303.0L1019.6 303.0L1020.6 303.0L1021.6 303.0L1022.6 303.0L1023.6 303.0L1024.6 303.0L1025.6 303.0L1026.6 303.0L1027.6 303.0L1028.6 303.0L1029.6 303.0L1030.6 303.0L1031.6 303.0L1032.6 303.0L1033.6 303.0L1034.6 303.0L1035.6 303.0L1036.6 303.0L1037.6 303.0L1038.6 303.0L1039.6 303.0L1040.6 303.0L1041.6 303.0L1042.6 303.0L1043.6 303.0L1044.6 303.0L1045.6 303.0L1046.6 303.0L1047.6 303.0L1048.6 303.0L1049.6 303.0L1050.6 303.0L1051.6 303.0L1052.6 303.0L1053.6 303.0L1054.6 303.0L1055.6 303.0L1056.6 303.0L1057.6 303.0L1058.6 303.0L1059.6 303.0L1060.6 303.0L1061.6 303.0L1062.6 303.0L1063.6 303.0L1064.6 303.0L1065.6 303.0L1066.6 303.0L1067.6 303.0L1068.6 303.0L1069.6 303.0L1070.6 303.0L1071.6 303.0L1072.6 303.0L1073.6 303.0L1074.6 303.0L1075.6 303.0L1076.6 303.0L1077.6 303.0L1078.6 303.0L1079.6 303.0L1080.6 303.0L1081.6 303.0L1082.6 303.0L1083.6 303.0L1084.6 303.0L1085.6 303.0L1086.6 303.0L1087.6 303.0L1088.6 303.0L1089.6 303.0L1090.6 303.0L1091.6 303.0L1092.6 303.0L1093.6 303.0L1094.6 303.0L1095.6 303.0L1096.6 303.0L1097.6 303.0L1098.6 303.0L1099.6 303.0L1100.6 303.0L1101.6 303.0L1102.6 303.0L1103.6 303.0L1104.6 303.0L1105.6 303.0L1106.6 303.0L1107.6 303.0L1108.6 303.0L1109.6 303.0L1110.6 303.0L1111.6 303.0L1112.6 303.0L1113.6 303.0L1114.6 303.0L1115.6 303.0L1116.6 303.0L1117.6 303.0L1118.6 303.0L1119.6 303.0L1120.6 303.0L1121.6 303.0L1122.6 303.0L1123.6 303.0L1124.6 303.0L1125.6 303.0L1126.6 303.0" fill="none" stroke="#a8141c" stroke-width="1.6"/>
<g fill="#8a4650" font-size="15"><text x="129.7" y="44.7">Ly-α</text><text x="142.9" y="59.5">N V 1240</text><text x="298.7" y="74.8">C IV 1549</text><text x="344.5" y="44.8">He II 1640</text><text x="479.9" y="59.7">C III] 1908</text><text x="930.2" y="74.7">Mg II 2799</text></g>
<g stroke="#666" stroke-width="1" shape-rendering="crispEdges"><line x1="73.5" y1="13" x2="73.5" y2="475"/><line x1="73" y1="474.5" x2="1127" y2="474.5"/></g>
<g><path d="M1047 497 L1036 486 L1046 476 M1047 497 L1040 504 Q1036 508 1032 504 L1014 486 Q1010 482 1014 478 L1032 460 Q1036 456 1040 460 L1055 475 Q1059 479 1055 483 L1046 492" fill="none" stroke="rgb(150,200,40)" stroke-opacity="0.09" stroke-width="7.8" stroke-linejoin="round" stroke-linecap="butt" transform="translate(1037,483) scale(1.16) translate(-1036,-482)"/>
<g fill="none" stroke="#808080" stroke-opacity="0.15" stroke-width="6.2"><path d="M1079.3 464.3V503.2M1079.3 467.4H1093A10.2 10.2 0 0 1 1093 487.8H1079.3M1112.8 464.3V494.5Q1112.8 500.1 1119.5 500.1M1134.6 479.7A10.2 10.2 0 1 0 1134.6 500.1A10.2 10.2 0 1 0 1134.6 479.7M1144.8 476.6V503.2M1158.5 469.8V493.5Q1158.5 500.1 1165 500.1H1170M1151.6 479.7H1170M1175.5 479.7H1196L1177 500.1H1197.4M1204.2 476.6V503.2"/></g><circle cx="1204.2" cy="467.6" r="3.3" fill="#808080" fill-opacity="0.15"/></g>
<g class="gs" fill="#111" font-size="14" text-anchor="middle"><text x="140.50" y="491">4000</text><text x="218.50" y="491">4500</text><text x="296.50" y="491">5000</text><text x="374.50" y="491">5500</text><text x="452.50" y="491">6000</text><text x="530.50" y="491">6500</text><text x="608.50" y="491">7000</text><text x="685.50" y="491">7500</text><text x="763.50" y="491">8000</text><text x="841.50" y="491">8500</text><text x="919.50" y="491">9000</text><text x="997.50" y="491">9500</text><text x="1075.50" y="491">10000</text></g>
<g class="gs" fill="#111" font-size="14" text-anchor="end"><text x="69.6" y="453.80">-10</text><text x="69.6" y="384.80">-5</text><text x="69.6" y="314.80">0</text><text x="69.6" y="244.80">5</text><text x="69.6" y="174.80">10</text><text x="69.6" y="104.80">15</text><text x="69.6" y="34.80">20</text></g>
<text class="gs" x="485" y="510.8" font-size="16" fill="#333">Wavelength [Ångströms]</text>
<text class="gs" transform="translate(32.9,336.9) rotate(-90)" font-size="16.2" fill="#333">Flux [10<tspan font-size="11" dy="-6">-17</tspan><tspan dy="6"> erg/cm</tspan><tspan font-size="11" dy="-6">2</tspan><tspan dy="6">/s/Å]</tspan></text>
</svg>
</body></html>
